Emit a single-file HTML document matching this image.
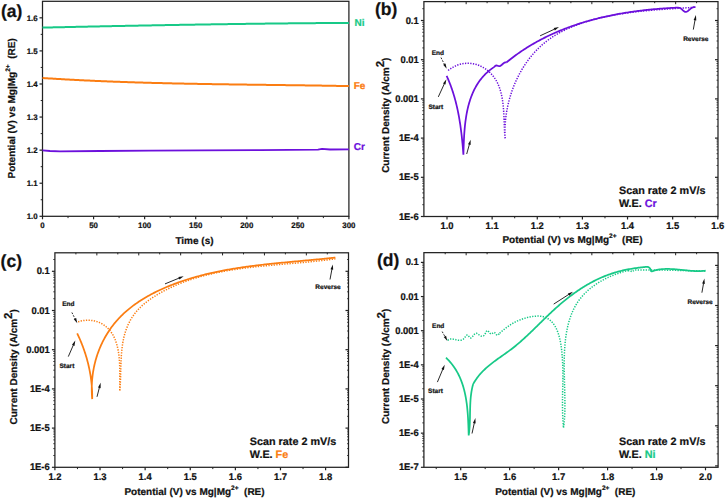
<!DOCTYPE html>
<html><head><meta charset="utf-8"><style>
html,body{margin:0;padding:0;background:#fff;width:725px;height:498px;overflow:hidden}
svg{display:block}
text{font-family:"Liberation Sans",sans-serif;font-weight:bold;text-rendering:geometricPrecision;stroke-width:0.22px}
</style></head><body>
<svg width="725" height="498" viewBox="0 0 725 498">
<rect width="725" height="498" fill="#fff"/>
<rect x="42.5" y="1.3" width="306.4" height="215.0" fill="none" stroke="#222" stroke-width="1.25"/>
<line x1="39.50" y1="216.30" x2="42.50" y2="216.30" stroke="#222" stroke-width="1.2" />
<text transform="translate(37.70,219.10) scale(1,1.0)" font-size="7.9" text-anchor="end" fill="#111" stroke="#111">1.0</text>
<line x1="39.50" y1="183.22" x2="42.50" y2="183.22" stroke="#222" stroke-width="1.2" />
<text transform="translate(37.70,186.02) scale(1,1.0)" font-size="7.9" text-anchor="end" fill="#111" stroke="#111">1.1</text>
<line x1="39.50" y1="150.14" x2="42.50" y2="150.14" stroke="#222" stroke-width="1.2" />
<text transform="translate(37.70,152.94) scale(1,1.0)" font-size="7.9" text-anchor="end" fill="#111" stroke="#111">1.2</text>
<line x1="39.50" y1="117.06" x2="42.50" y2="117.06" stroke="#222" stroke-width="1.2" />
<text transform="translate(37.70,119.86) scale(1,1.0)" font-size="7.9" text-anchor="end" fill="#111" stroke="#111">1.3</text>
<line x1="39.50" y1="83.98" x2="42.50" y2="83.98" stroke="#222" stroke-width="1.2" />
<text transform="translate(37.70,86.78) scale(1,1.0)" font-size="7.9" text-anchor="end" fill="#111" stroke="#111">1.4</text>
<line x1="39.50" y1="50.90" x2="42.50" y2="50.90" stroke="#222" stroke-width="1.2" />
<text transform="translate(37.70,53.70) scale(1,1.0)" font-size="7.9" text-anchor="end" fill="#111" stroke="#111">1.5</text>
<line x1="39.50" y1="17.82" x2="42.50" y2="17.82" stroke="#222" stroke-width="1.2" />
<text transform="translate(37.70,20.62) scale(1,1.0)" font-size="7.9" text-anchor="end" fill="#111" stroke="#111">1.6</text>
<line x1="40.70" y1="199.76" x2="42.50" y2="199.76" stroke="#222" stroke-width="1.0" />
<line x1="40.70" y1="166.68" x2="42.50" y2="166.68" stroke="#222" stroke-width="1.0" />
<line x1="40.70" y1="133.60" x2="42.50" y2="133.60" stroke="#222" stroke-width="1.0" />
<line x1="40.70" y1="100.52" x2="42.50" y2="100.52" stroke="#222" stroke-width="1.0" />
<line x1="40.70" y1="67.44" x2="42.50" y2="67.44" stroke="#222" stroke-width="1.0" />
<line x1="40.70" y1="34.36" x2="42.50" y2="34.36" stroke="#222" stroke-width="1.0" />
<line x1="42.50" y1="216.30" x2="42.50" y2="219.30" stroke="#222" stroke-width="1.2" />
<text transform="translate(42.50,228.10) scale(1,1.0)" font-size="7.9" text-anchor="middle" fill="#111" stroke="#111">0</text>
<line x1="93.57" y1="216.30" x2="93.57" y2="219.30" stroke="#222" stroke-width="1.2" />
<text transform="translate(93.57,228.10) scale(1,1.0)" font-size="7.9" text-anchor="middle" fill="#111" stroke="#111">50</text>
<line x1="144.63" y1="216.30" x2="144.63" y2="219.30" stroke="#222" stroke-width="1.2" />
<text transform="translate(144.63,228.10) scale(1,1.0)" font-size="7.9" text-anchor="middle" fill="#111" stroke="#111">100</text>
<line x1="195.70" y1="216.30" x2="195.70" y2="219.30" stroke="#222" stroke-width="1.2" />
<text transform="translate(195.70,228.10) scale(1,1.0)" font-size="7.9" text-anchor="middle" fill="#111" stroke="#111">150</text>
<line x1="246.77" y1="216.30" x2="246.77" y2="219.30" stroke="#222" stroke-width="1.2" />
<text transform="translate(246.77,228.10) scale(1,1.0)" font-size="7.9" text-anchor="middle" fill="#111" stroke="#111">200</text>
<line x1="297.83" y1="216.30" x2="297.83" y2="219.30" stroke="#222" stroke-width="1.2" />
<text transform="translate(297.83,228.10) scale(1,1.0)" font-size="7.9" text-anchor="middle" fill="#111" stroke="#111">250</text>
<line x1="348.90" y1="216.30" x2="348.90" y2="219.30" stroke="#222" stroke-width="1.2" />
<text transform="translate(348.90,228.10) scale(1,1.0)" font-size="7.9" text-anchor="middle" fill="#111" stroke="#111">300</text>
<line x1="68.03" y1="216.30" x2="68.03" y2="218.10" stroke="#222" stroke-width="1.0" />
<line x1="119.10" y1="216.30" x2="119.10" y2="218.10" stroke="#222" stroke-width="1.0" />
<line x1="170.17" y1="216.30" x2="170.17" y2="218.10" stroke="#222" stroke-width="1.0" />
<line x1="221.23" y1="216.30" x2="221.23" y2="218.10" stroke="#222" stroke-width="1.0" />
<line x1="272.30" y1="216.30" x2="272.30" y2="218.10" stroke="#222" stroke-width="1.0" />
<line x1="323.37" y1="216.30" x2="323.37" y2="218.10" stroke="#222" stroke-width="1.0" />
<text x="194.50" y="243.50" font-size="10" text-anchor="middle" fill="#111" stroke="#111" >Time (s)</text>
<text transform="translate(14.8,108.4) rotate(-90)" font-size="10" text-anchor="middle" fill="#111" stroke="#111">Potential (V) vs Mg|Mg<tspan font-size="6.5" dy="-5">2+</tspan><tspan dy="5" xml:space="preserve">  (RE)</tspan></text>
<text x="1.00" y="16.50" font-size="17.5" text-anchor="start" fill="#111" stroke="#111" >(a)</text>
<path d="M42.50,27.60 L43.71,27.57 L44.91,27.55 L46.12,27.52 L47.32,27.49 L48.53,27.47 L49.74,27.44 L50.94,27.41 L52.15,27.39 L53.36,27.36 L54.56,27.34 L55.77,27.31 L56.97,27.28 L58.18,27.26 L59.39,27.23 L60.59,27.21 L61.80,27.18 L63.00,27.15 L64.21,27.13 L65.42,27.10 L66.62,27.08 L67.83,27.05 L69.04,27.02 L70.24,27.00 L71.45,26.97 L72.65,26.95 L73.86,26.92 L75.07,26.90 L76.27,26.87 L77.48,26.84 L78.69,26.82 L79.89,26.79 L81.10,26.77 L82.30,26.74 L83.51,26.72 L84.72,26.69 L85.92,26.67 L87.13,26.64 L88.33,26.62 L89.54,26.59 L90.75,26.57 L91.95,26.54 L93.16,26.52 L94.37,26.49 L95.57,26.47 L96.78,26.44 L97.98,26.42 L99.19,26.39 L100.40,26.37 L101.60,26.34 L102.81,26.32 L104.02,26.29 L105.22,26.27 L106.43,26.25 L107.63,26.22 L108.84,26.20 L110.05,26.17 L111.25,26.15 L112.46,26.12 L113.67,26.10 L114.87,26.08 L116.08,26.05 L117.28,26.03 L118.49,26.01 L119.70,25.98 L120.90,25.96 L122.11,25.93 L123.31,25.91 L124.52,25.89 L125.73,25.86 L126.93,25.84 L128.14,25.82 L129.35,25.79 L130.55,25.77 L131.76,25.75 L132.96,25.72 L134.17,25.70 L135.38,25.68 L136.58,25.65 L137.79,25.63 L139.00,25.61 L140.20,25.59 L141.41,25.56 L142.61,25.54 L143.82,25.52 L145.03,25.49 L146.23,25.47 L147.44,25.45 L148.65,25.43 L149.85,25.41 L151.06,25.38 L152.26,25.36 L153.47,25.34 L154.68,25.32 L155.88,25.29 L157.09,25.27 L158.30,25.25 L159.50,25.23 L160.71,25.21 L161.91,25.19 L163.12,25.16 L164.33,25.14 L165.53,25.12 L166.74,25.10 L167.95,25.08 L169.15,25.06 L170.36,25.04 L171.56,25.02 L172.77,24.99 L173.98,24.97 L175.18,24.95 L176.39,24.93 L177.60,24.91 L178.80,24.89 L180.01,24.87 L181.21,24.85 L182.42,24.83 L183.63,24.81 L184.83,24.79 L186.04,24.77 L187.25,24.75 L188.45,24.73 L189.66,24.71 L190.87,24.69 L192.07,24.67 L193.28,24.65 L194.48,24.63 L195.69,24.61 L196.90,24.59 L198.10,24.57 L199.31,24.55 L200.52,24.53 L201.72,24.51 L202.93,24.49 L204.13,24.47 L205.34,24.46 L206.55,24.44 L207.75,24.42 L208.96,24.40 L210.17,24.38 L211.37,24.36 L212.58,24.34 L213.78,24.33 L214.99,24.31 L216.20,24.29 L217.40,24.27 L218.61,24.25 L219.82,24.24 L221.02,24.22 L222.23,24.20 L223.44,24.18 L224.64,24.16 L225.85,24.15 L227.05,24.13 L228.26,24.11 L229.47,24.10 L230.67,24.08 L231.88,24.06 L233.09,24.04 L234.29,24.03 L235.50,24.01 L236.71,23.99 L237.91,23.98 L239.12,23.96 L240.32,23.94 L241.53,23.93 L242.74,23.91 L243.94,23.90 L245.15,23.88 L246.36,23.86 L247.56,23.85 L248.77,23.83 L249.97,23.82 L251.18,23.80 L252.39,23.79 L253.59,23.77 L254.80,23.76 L256.01,23.74 L257.21,23.73 L258.42,23.71 L259.63,23.70 L260.83,23.68 L262.04,23.67 L263.24,23.65 L264.45,23.64 L265.66,23.62 L266.86,23.61 L268.07,23.59 L269.28,23.58 L270.48,23.57 L271.69,23.55 L272.90,23.54 L274.10,23.53 L275.31,23.51 L276.51,23.50 L277.72,23.49 L278.93,23.47 L280.13,23.46 L281.34,23.45 L282.55,23.43 L283.75,23.42 L284.96,23.41 L286.17,23.40 L287.37,23.38 L288.58,23.37 L289.79,23.36 L290.99,23.35 L292.20,23.33 L293.40,23.32 L294.61,23.31 L295.82,23.30 L297.02,23.29 L298.23,23.28 L299.44,23.26 L300.64,23.25 L301.85,23.24 L303.06,23.23 L304.26,23.22 L305.47,23.21 L306.67,23.20 L307.88,23.19 L309.09,23.18 L310.29,23.17 L311.50,23.16 L312.71,23.15 L313.91,23.14 L315.12,23.13 L316.33,23.12 L317.53,23.11 L318.74,23.10 L319.95,23.09 L321.15,23.08 L322.36,23.07 L323.56,23.06 L324.77,23.05 L325.98,23.04 L327.18,23.04 L328.39,23.03 L329.60,23.02 L330.80,23.01 L332.01,23.00 L333.22,22.99 L334.42,22.99 L335.63,22.98 L336.84,22.97 L338.04,22.96 L339.25,22.96 L340.45,22.95 L341.66,22.94 L342.87,22.93 L344.07,22.93 L345.28,22.92 L346.49,22.91 L347.69,22.91 L348.90,22.90" fill="none" stroke="#17c987" stroke-width="2.0" stroke-linejoin="round" />
<path d="M42.50,78.00 L43.70,78.08 L44.91,78.16 L46.11,78.24 L47.31,78.31 L48.52,78.39 L49.72,78.47 L50.93,78.54 L52.13,78.62 L53.33,78.69 L54.54,78.76 L55.74,78.84 L56.94,78.91 L58.15,78.98 L59.35,79.05 L60.56,79.12 L61.76,79.19 L62.97,79.26 L64.17,79.33 L65.37,79.39 L66.58,79.46 L67.78,79.53 L68.99,79.59 L70.19,79.66 L71.40,79.72 L72.60,79.79 L73.81,79.85 L75.01,79.91 L76.21,79.98 L77.42,80.04 L78.62,80.10 L79.83,80.16 L81.03,80.22 L82.24,80.28 L83.44,80.34 L84.65,80.40 L85.85,80.45 L87.06,80.51 L88.26,80.57 L89.47,80.62 L90.67,80.68 L91.88,80.73 L93.08,80.79 L94.29,80.84 L95.49,80.90 L96.70,80.95 L97.91,81.00 L99.11,81.05 L100.32,81.10 L101.52,81.16 L102.73,81.21 L103.93,81.26 L105.14,81.30 L106.34,81.35 L107.55,81.40 L108.75,81.45 L109.96,81.50 L111.17,81.54 L112.37,81.59 L113.58,81.64 L114.78,81.68 L115.99,81.73 L117.19,81.77 L118.40,81.81 L119.61,81.86 L120.81,81.90 L122.02,81.94 L123.22,81.99 L124.43,82.03 L125.64,82.07 L126.84,82.11 L128.05,82.15 L129.25,82.19 L130.46,82.23 L131.67,82.27 L132.87,82.31 L134.08,82.35 L135.29,82.38 L136.49,82.42 L137.70,82.46 L138.90,82.50 L140.11,82.53 L141.32,82.57 L142.52,82.60 L143.73,82.64 L144.94,82.67 L146.14,82.71 L147.35,82.74 L148.56,82.78 L149.76,82.81 L150.97,82.84 L152.18,82.88 L153.38,82.91 L154.59,82.94 L155.80,82.97 L157.00,83.00 L158.21,83.03 L159.42,83.06 L160.62,83.09 L161.83,83.12 L163.04,83.15 L164.24,83.18 L165.45,83.21 L166.66,83.24 L167.86,83.27 L169.07,83.30 L170.28,83.33 L171.48,83.35 L172.69,83.38 L173.90,83.41 L175.10,83.43 L176.31,83.46 L177.52,83.49 L178.73,83.51 L179.93,83.54 L181.14,83.56 L182.35,83.59 L183.55,83.61 L184.76,83.64 L185.97,83.66 L187.17,83.68 L188.38,83.71 L189.59,83.73 L190.80,83.75 L192.00,83.78 L193.21,83.80 L194.42,83.82 L195.62,83.84 L196.83,83.87 L198.04,83.89 L199.25,83.91 L200.45,83.93 L201.66,83.95 L202.87,83.97 L204.07,83.99 L205.28,84.01 L206.49,84.03 L207.70,84.05 L208.90,84.07 L210.11,84.09 L211.32,84.11 L212.52,84.13 L213.73,84.15 L214.94,84.17 L216.15,84.19 L217.35,84.21 L218.56,84.23 L219.77,84.25 L220.98,84.26 L222.18,84.28 L223.39,84.30 L224.60,84.32 L225.80,84.34 L227.01,84.35 L228.22,84.37 L229.43,84.39 L230.63,84.41 L231.84,84.42 L233.05,84.44 L234.25,84.46 L235.46,84.47 L236.67,84.49 L237.88,84.51 L239.08,84.52 L240.29,84.54 L241.50,84.56 L242.71,84.57 L243.91,84.59 L245.12,84.60 L246.33,84.62 L247.53,84.64 L248.74,84.65 L249.95,84.67 L251.16,84.68 L252.36,84.70 L253.57,84.72 L254.78,84.73 L255.99,84.75 L257.19,84.76 L258.40,84.78 L259.61,84.79 L260.81,84.81 L262.02,84.82 L263.23,84.84 L264.44,84.85 L265.64,84.87 L266.85,84.89 L268.06,84.90 L269.26,84.92 L270.47,84.93 L271.68,84.95 L272.89,84.96 L274.09,84.98 L275.30,84.99 L276.51,85.01 L277.71,85.02 L278.92,85.04 L280.13,85.05 L281.34,85.07 L282.54,85.09 L283.75,85.10 L284.96,85.12 L286.16,85.13 L287.37,85.15 L288.58,85.16 L289.78,85.18 L290.99,85.19 L292.20,85.21 L293.40,85.23 L294.61,85.24 L295.82,85.26 L297.03,85.28 L298.23,85.29 L299.44,85.31 L300.65,85.32 L301.85,85.34 L303.06,85.36 L304.27,85.37 L305.47,85.39 L306.68,85.41 L307.89,85.43 L309.09,85.44 L310.30,85.46 L311.51,85.48 L312.71,85.50 L313.92,85.51 L315.13,85.53 L316.33,85.55 L317.54,85.57 L318.75,85.59 L319.95,85.60 L321.16,85.62 L322.36,85.64 L323.57,85.66 L324.78,85.68 L325.98,85.70 L327.19,85.72 L328.40,85.74 L329.60,85.76 L330.81,85.78 L332.02,85.80 L333.22,85.82 L334.43,85.84 L335.63,85.86 L336.84,85.88 L338.05,85.90 L339.25,85.92 L340.46,85.94 L341.66,85.96 L342.87,85.99 L344.08,86.01 L345.28,86.03 L346.49,86.05 L347.69,86.08 L348.90,86.10" fill="none" stroke="#fb7d12" stroke-width="2.0" stroke-linejoin="round" />
<path d="M42.50,150.40 L50.00,151.00 L60.00,151.40 L100.00,151.00 L150.00,150.60 L200.00,150.40 L260.00,150.10 L318.00,149.60 L322.00,148.90 L330.00,149.50 L348.90,149.30" fill="none" stroke="#6c10dc" stroke-width="1.8" stroke-linejoin="round"/>
<text x="354.50" y="26.10" font-size="10" text-anchor="start" fill="#17c987" stroke="#17c987" >Ni</text>
<text x="353.70" y="88.60" font-size="10" text-anchor="start" fill="#fb7d12" stroke="#fb7d12" >Fe</text>
<text x="353.70" y="150.10" font-size="10" text-anchor="start" fill="#6c10dc" stroke="#6c10dc" >Cr</text>
<rect x="423.9" y="1.6" width="294.1" height="214.9" fill="none" stroke="#222" stroke-width="1.25"/>
<line x1="420.90" y1="20.50" x2="423.90" y2="20.50" stroke="#222" stroke-width="1.2" />
<text transform="translate(418.70,23.50) scale(1,1.03)" font-size="9.4" text-anchor="end" fill="#111" stroke="#111">0.1</text>
<line x1="422.30" y1="8.70" x2="423.90" y2="8.70" stroke="#222" stroke-width="0.9" />
<line x1="420.90" y1="59.70" x2="423.90" y2="59.70" stroke="#222" stroke-width="1.2" />
<text transform="translate(418.70,62.70) scale(1,1.03)" font-size="9.4" text-anchor="end" fill="#111" stroke="#111">0.01</text>
<line x1="422.30" y1="47.90" x2="423.90" y2="47.90" stroke="#222" stroke-width="0.9" />
<line x1="422.30" y1="41.00" x2="423.90" y2="41.00" stroke="#222" stroke-width="0.9" />
<line x1="422.30" y1="36.10" x2="423.90" y2="36.10" stroke="#222" stroke-width="0.9" />
<line x1="422.30" y1="32.30" x2="423.90" y2="32.30" stroke="#222" stroke-width="0.9" />
<line x1="422.30" y1="29.20" x2="423.90" y2="29.20" stroke="#222" stroke-width="0.9" />
<line x1="422.30" y1="26.57" x2="423.90" y2="26.57" stroke="#222" stroke-width="0.9" />
<line x1="422.30" y1="24.30" x2="423.90" y2="24.30" stroke="#222" stroke-width="0.9" />
<line x1="422.30" y1="22.29" x2="423.90" y2="22.29" stroke="#222" stroke-width="0.9" />
<line x1="420.90" y1="98.90" x2="423.90" y2="98.90" stroke="#222" stroke-width="1.2" />
<text transform="translate(418.70,101.90) scale(1,1.03)" font-size="9.4" text-anchor="end" fill="#111" stroke="#111">0.001</text>
<line x1="422.30" y1="87.10" x2="423.90" y2="87.10" stroke="#222" stroke-width="0.9" />
<line x1="422.30" y1="80.20" x2="423.90" y2="80.20" stroke="#222" stroke-width="0.9" />
<line x1="422.30" y1="75.30" x2="423.90" y2="75.30" stroke="#222" stroke-width="0.9" />
<line x1="422.30" y1="71.50" x2="423.90" y2="71.50" stroke="#222" stroke-width="0.9" />
<line x1="422.30" y1="68.40" x2="423.90" y2="68.40" stroke="#222" stroke-width="0.9" />
<line x1="422.30" y1="65.77" x2="423.90" y2="65.77" stroke="#222" stroke-width="0.9" />
<line x1="422.30" y1="63.50" x2="423.90" y2="63.50" stroke="#222" stroke-width="0.9" />
<line x1="422.30" y1="61.49" x2="423.90" y2="61.49" stroke="#222" stroke-width="0.9" />
<line x1="420.90" y1="138.10" x2="423.90" y2="138.10" stroke="#222" stroke-width="1.2" />
<text transform="translate(418.70,141.10) scale(1,1.03)" font-size="9.4" text-anchor="end" fill="#111" stroke="#111">1E-4</text>
<line x1="422.30" y1="126.30" x2="423.90" y2="126.30" stroke="#222" stroke-width="0.9" />
<line x1="422.30" y1="119.40" x2="423.90" y2="119.40" stroke="#222" stroke-width="0.9" />
<line x1="422.30" y1="114.50" x2="423.90" y2="114.50" stroke="#222" stroke-width="0.9" />
<line x1="422.30" y1="110.70" x2="423.90" y2="110.70" stroke="#222" stroke-width="0.9" />
<line x1="422.30" y1="107.60" x2="423.90" y2="107.60" stroke="#222" stroke-width="0.9" />
<line x1="422.30" y1="104.97" x2="423.90" y2="104.97" stroke="#222" stroke-width="0.9" />
<line x1="422.30" y1="102.70" x2="423.90" y2="102.70" stroke="#222" stroke-width="0.9" />
<line x1="422.30" y1="100.69" x2="423.90" y2="100.69" stroke="#222" stroke-width="0.9" />
<line x1="420.90" y1="177.30" x2="423.90" y2="177.30" stroke="#222" stroke-width="1.2" />
<text transform="translate(418.70,180.30) scale(1,1.03)" font-size="9.4" text-anchor="end" fill="#111" stroke="#111">1E-5</text>
<line x1="422.30" y1="165.50" x2="423.90" y2="165.50" stroke="#222" stroke-width="0.9" />
<line x1="422.30" y1="158.60" x2="423.90" y2="158.60" stroke="#222" stroke-width="0.9" />
<line x1="422.30" y1="153.70" x2="423.90" y2="153.70" stroke="#222" stroke-width="0.9" />
<line x1="422.30" y1="149.90" x2="423.90" y2="149.90" stroke="#222" stroke-width="0.9" />
<line x1="422.30" y1="146.80" x2="423.90" y2="146.80" stroke="#222" stroke-width="0.9" />
<line x1="422.30" y1="144.17" x2="423.90" y2="144.17" stroke="#222" stroke-width="0.9" />
<line x1="422.30" y1="141.90" x2="423.90" y2="141.90" stroke="#222" stroke-width="0.9" />
<line x1="422.30" y1="139.89" x2="423.90" y2="139.89" stroke="#222" stroke-width="0.9" />
<line x1="420.90" y1="216.50" x2="423.90" y2="216.50" stroke="#222" stroke-width="1.2" />
<text transform="translate(418.70,219.50) scale(1,1.03)" font-size="9.4" text-anchor="end" fill="#111" stroke="#111">1E-6</text>
<line x1="422.30" y1="204.70" x2="423.90" y2="204.70" stroke="#222" stroke-width="0.9" />
<line x1="422.30" y1="197.80" x2="423.90" y2="197.80" stroke="#222" stroke-width="0.9" />
<line x1="422.30" y1="192.90" x2="423.90" y2="192.90" stroke="#222" stroke-width="0.9" />
<line x1="422.30" y1="189.10" x2="423.90" y2="189.10" stroke="#222" stroke-width="0.9" />
<line x1="422.30" y1="186.00" x2="423.90" y2="186.00" stroke="#222" stroke-width="0.9" />
<line x1="422.30" y1="183.37" x2="423.90" y2="183.37" stroke="#222" stroke-width="0.9" />
<line x1="422.30" y1="181.10" x2="423.90" y2="181.10" stroke="#222" stroke-width="0.9" />
<line x1="422.30" y1="179.09" x2="423.90" y2="179.09" stroke="#222" stroke-width="0.9" />
<line x1="716.50" y1="8.70" x2="718.00" y2="8.70" stroke="#222" stroke-width="0.8" />
<line x1="715.00" y1="20.50" x2="718.00" y2="20.50" stroke="#222" stroke-width="1.2" />
<line x1="716.50" y1="47.90" x2="718.00" y2="47.90" stroke="#222" stroke-width="0.8" />
<line x1="716.50" y1="41.00" x2="718.00" y2="41.00" stroke="#222" stroke-width="0.8" />
<line x1="716.50" y1="36.10" x2="718.00" y2="36.10" stroke="#222" stroke-width="0.8" />
<line x1="716.50" y1="32.30" x2="718.00" y2="32.30" stroke="#222" stroke-width="0.8" />
<line x1="716.50" y1="29.20" x2="718.00" y2="29.20" stroke="#222" stroke-width="0.8" />
<line x1="716.50" y1="26.57" x2="718.00" y2="26.57" stroke="#222" stroke-width="0.8" />
<line x1="716.50" y1="24.30" x2="718.00" y2="24.30" stroke="#222" stroke-width="0.8" />
<line x1="716.50" y1="22.29" x2="718.00" y2="22.29" stroke="#222" stroke-width="0.8" />
<line x1="715.00" y1="59.70" x2="718.00" y2="59.70" stroke="#222" stroke-width="1.2" />
<line x1="716.50" y1="87.10" x2="718.00" y2="87.10" stroke="#222" stroke-width="0.8" />
<line x1="716.50" y1="80.20" x2="718.00" y2="80.20" stroke="#222" stroke-width="0.8" />
<line x1="716.50" y1="75.30" x2="718.00" y2="75.30" stroke="#222" stroke-width="0.8" />
<line x1="716.50" y1="71.50" x2="718.00" y2="71.50" stroke="#222" stroke-width="0.8" />
<line x1="716.50" y1="68.40" x2="718.00" y2="68.40" stroke="#222" stroke-width="0.8" />
<line x1="716.50" y1="65.77" x2="718.00" y2="65.77" stroke="#222" stroke-width="0.8" />
<line x1="716.50" y1="63.50" x2="718.00" y2="63.50" stroke="#222" stroke-width="0.8" />
<line x1="716.50" y1="61.49" x2="718.00" y2="61.49" stroke="#222" stroke-width="0.8" />
<line x1="715.00" y1="98.90" x2="718.00" y2="98.90" stroke="#222" stroke-width="1.2" />
<line x1="716.50" y1="126.30" x2="718.00" y2="126.30" stroke="#222" stroke-width="0.8" />
<line x1="716.50" y1="119.40" x2="718.00" y2="119.40" stroke="#222" stroke-width="0.8" />
<line x1="716.50" y1="114.50" x2="718.00" y2="114.50" stroke="#222" stroke-width="0.8" />
<line x1="716.50" y1="110.70" x2="718.00" y2="110.70" stroke="#222" stroke-width="0.8" />
<line x1="716.50" y1="107.60" x2="718.00" y2="107.60" stroke="#222" stroke-width="0.8" />
<line x1="716.50" y1="104.97" x2="718.00" y2="104.97" stroke="#222" stroke-width="0.8" />
<line x1="716.50" y1="102.70" x2="718.00" y2="102.70" stroke="#222" stroke-width="0.8" />
<line x1="716.50" y1="100.69" x2="718.00" y2="100.69" stroke="#222" stroke-width="0.8" />
<line x1="715.00" y1="138.10" x2="718.00" y2="138.10" stroke="#222" stroke-width="1.2" />
<line x1="716.50" y1="165.50" x2="718.00" y2="165.50" stroke="#222" stroke-width="0.8" />
<line x1="716.50" y1="158.60" x2="718.00" y2="158.60" stroke="#222" stroke-width="0.8" />
<line x1="716.50" y1="153.70" x2="718.00" y2="153.70" stroke="#222" stroke-width="0.8" />
<line x1="716.50" y1="149.90" x2="718.00" y2="149.90" stroke="#222" stroke-width="0.8" />
<line x1="716.50" y1="146.80" x2="718.00" y2="146.80" stroke="#222" stroke-width="0.8" />
<line x1="716.50" y1="144.17" x2="718.00" y2="144.17" stroke="#222" stroke-width="0.8" />
<line x1="716.50" y1="141.90" x2="718.00" y2="141.90" stroke="#222" stroke-width="0.8" />
<line x1="716.50" y1="139.89" x2="718.00" y2="139.89" stroke="#222" stroke-width="0.8" />
<line x1="715.00" y1="177.30" x2="718.00" y2="177.30" stroke="#222" stroke-width="1.2" />
<line x1="716.50" y1="204.70" x2="718.00" y2="204.70" stroke="#222" stroke-width="0.8" />
<line x1="716.50" y1="197.80" x2="718.00" y2="197.80" stroke="#222" stroke-width="0.8" />
<line x1="716.50" y1="192.90" x2="718.00" y2="192.90" stroke="#222" stroke-width="0.8" />
<line x1="716.50" y1="189.10" x2="718.00" y2="189.10" stroke="#222" stroke-width="0.8" />
<line x1="716.50" y1="186.00" x2="718.00" y2="186.00" stroke="#222" stroke-width="0.8" />
<line x1="716.50" y1="183.37" x2="718.00" y2="183.37" stroke="#222" stroke-width="0.8" />
<line x1="716.50" y1="181.10" x2="718.00" y2="181.10" stroke="#222" stroke-width="0.8" />
<line x1="716.50" y1="179.09" x2="718.00" y2="179.09" stroke="#222" stroke-width="0.8" />
<line x1="715.00" y1="216.50" x2="718.00" y2="216.50" stroke="#222" stroke-width="1.2" />
<line x1="445.20" y1="1.60" x2="445.20" y2="3.20" stroke="#222" stroke-width="1.0" />
<line x1="466.15" y1="1.60" x2="466.15" y2="4.20" stroke="#222" stroke-width="1.0" />
<line x1="487.10" y1="1.60" x2="487.10" y2="3.20" stroke="#222" stroke-width="1.0" />
<line x1="508.05" y1="1.60" x2="508.05" y2="4.20" stroke="#222" stroke-width="1.0" />
<line x1="529.00" y1="1.60" x2="529.00" y2="3.20" stroke="#222" stroke-width="1.0" />
<line x1="549.95" y1="1.60" x2="549.95" y2="4.20" stroke="#222" stroke-width="1.0" />
<line x1="570.90" y1="1.60" x2="570.90" y2="3.20" stroke="#222" stroke-width="1.0" />
<line x1="591.85" y1="1.60" x2="591.85" y2="4.20" stroke="#222" stroke-width="1.0" />
<line x1="612.80" y1="1.60" x2="612.80" y2="3.20" stroke="#222" stroke-width="1.0" />
<line x1="633.75" y1="1.60" x2="633.75" y2="4.20" stroke="#222" stroke-width="1.0" />
<line x1="654.70" y1="1.60" x2="654.70" y2="3.20" stroke="#222" stroke-width="1.0" />
<line x1="675.65" y1="1.60" x2="675.65" y2="4.20" stroke="#222" stroke-width="1.0" />
<line x1="696.60" y1="1.60" x2="696.60" y2="3.20" stroke="#222" stroke-width="1.0" />
<line x1="447.00" y1="216.50" x2="447.00" y2="219.50" stroke="#222" stroke-width="1.2" />
<text transform="translate(447.00,228.90) scale(1,1.03)" font-size="9.4" text-anchor="middle" fill="#111" stroke="#111">1.0</text>
<line x1="492.13" y1="216.50" x2="492.13" y2="219.50" stroke="#222" stroke-width="1.2" />
<text transform="translate(492.13,228.90) scale(1,1.03)" font-size="9.4" text-anchor="middle" fill="#111" stroke="#111">1.1</text>
<line x1="537.27" y1="216.50" x2="537.27" y2="219.50" stroke="#222" stroke-width="1.2" />
<text transform="translate(537.27,228.90) scale(1,1.03)" font-size="9.4" text-anchor="middle" fill="#111" stroke="#111">1.2</text>
<line x1="582.40" y1="216.50" x2="582.40" y2="219.50" stroke="#222" stroke-width="1.2" />
<text transform="translate(582.40,228.90) scale(1,1.03)" font-size="9.4" text-anchor="middle" fill="#111" stroke="#111">1.3</text>
<line x1="627.53" y1="216.50" x2="627.53" y2="219.50" stroke="#222" stroke-width="1.2" />
<text transform="translate(627.53,228.90) scale(1,1.03)" font-size="9.4" text-anchor="middle" fill="#111" stroke="#111">1.4</text>
<line x1="672.67" y1="216.50" x2="672.67" y2="219.50" stroke="#222" stroke-width="1.2" />
<text transform="translate(672.67,228.90) scale(1,1.03)" font-size="9.4" text-anchor="middle" fill="#111" stroke="#111">1.5</text>
<line x1="717.80" y1="216.50" x2="717.80" y2="219.50" stroke="#222" stroke-width="1.2" />
<text transform="translate(717.80,228.90) scale(1,1.03)" font-size="9.4" text-anchor="middle" fill="#111" stroke="#111">1.6</text>
<line x1="469.57" y1="216.50" x2="469.57" y2="218.30" stroke="#222" stroke-width="1.0" />
<line x1="514.70" y1="216.50" x2="514.70" y2="218.30" stroke="#222" stroke-width="1.0" />
<line x1="559.83" y1="216.50" x2="559.83" y2="218.30" stroke="#222" stroke-width="1.0" />
<line x1="604.97" y1="216.50" x2="604.97" y2="218.30" stroke="#222" stroke-width="1.0" />
<line x1="650.10" y1="216.50" x2="650.10" y2="218.30" stroke="#222" stroke-width="1.0" />
<line x1="695.23" y1="216.50" x2="695.23" y2="218.30" stroke="#222" stroke-width="1.0" />
<text x="375.00" y="15.00" font-size="17.5" text-anchor="start" fill="#111" stroke="#111" >(b)</text>
<path d="M446.60,75.80 L447.11,76.93 L447.61,78.06 L448.11,79.19 L448.59,80.33 L449.06,81.47 L449.52,82.61 L449.97,83.76 L450.40,84.91 L450.83,86.06 L451.25,87.22 L451.67,88.38 L452.07,89.54 L452.46,90.71 L452.84,91.87 L453.21,93.05 L453.58,94.22 L453.93,95.39 L454.28,96.57 L454.62,97.75 L454.95,98.94 L455.27,100.12 L455.59,101.31 L455.89,102.50 L456.19,103.69 L456.48,104.88 L456.76,106.08 L457.04,107.28 L457.31,108.48 L457.57,109.68 L457.82,110.88 L458.07,112.09 L458.31,113.29 L458.54,114.50 L458.77,115.71 L458.99,116.92 L459.20,118.13 L459.41,119.35 L459.61,120.56 L459.81,121.78 L460.00,123.00 L460.19,124.21 L460.37,125.43 L460.54,126.65 L460.71,127.87 L460.87,129.09 L461.03,130.32 L461.19,131.54 L461.34,132.76 L461.48,133.99 L461.62,135.21 L461.76,136.43 L461.89,137.66 L462.02,138.88 L462.15,140.11 L462.27,141.33 L462.39,142.56 L462.50,143.78 L462.61,145.01 L462.72,146.23 L462.83,147.46 L462.93,148.68 L463.03,149.91 L463.12,151.13 L463.22,152.36 L463.31,153.58 L463.40,154.80 M463.40,154.80 L463.43,153.63 L463.47,152.45 L463.50,151.27 L463.54,150.08 L463.57,148.89 L463.61,147.69 L463.65,146.49 L463.70,145.28 L463.74,144.07 L463.79,142.85 L463.84,141.64 L463.90,140.42 L463.95,139.19 L464.02,137.97 L464.09,136.74 L464.16,135.51 L464.24,134.28 L464.32,133.05 L464.41,131.82 L464.51,130.59 L464.61,129.36 L464.72,128.12 L464.84,126.89 L464.96,125.66 L465.09,124.43 L465.24,123.20 L465.38,121.97 L465.54,120.75 L465.71,119.52 L465.89,118.30 L466.07,117.08 L466.27,115.87 L466.48,114.66 L466.70,113.45 L466.93,112.24 L467.17,111.04 L467.42,109.85 L467.69,108.66 L467.97,107.47 L468.26,106.29 L468.56,105.11 L468.88,103.94 L469.21,102.78 L469.56,101.63 L469.92,100.48 L470.30,99.33 L470.69,98.20 L471.10,97.07 L471.52,95.96 L471.96,94.84 L472.41,93.74 L472.88,92.65 L473.37,91.57 L473.88,90.49 L474.40,89.43 L474.95,88.38 L475.51,87.33 L476.09,86.30 L476.69,85.28 L477.31,84.27 L477.95,83.27 L478.61,82.28 L479.29,81.31 L479.99,80.35 L480.71,79.40 L481.45,78.46 L482.22,77.54 L483.00,76.63 L483.81,75.74 L484.65,74.85 L485.50,73.99 L486.38,73.14 L487.28,72.30 L488.21,71.48 L489.16,70.68 L490.14,69.89 L491.14,69.12 L492.17,68.36 L493.22,67.62 L494.30,66.90 M494.30,66.90 L495.56,65.58 L496.86,65.46 L498.15,65.87 L499.38,66.14 L500.52,65.80 L501.62,64.99 L502.73,63.96 L503.89,63.00 L505.17,62.35 L506.60,62.30 M506.60,62.30 L507.55,61.52 L508.51,60.75 L509.47,59.98 L510.43,59.22 L511.40,58.47 L512.37,57.73 L513.35,56.99 L514.33,56.26 L515.31,55.53 L516.30,54.82 L517.29,54.11 L518.28,53.40 L519.28,52.70 L520.28,52.01 L521.29,51.33 L522.29,50.65 L523.31,49.98 L524.32,49.32 L525.34,48.66 L526.36,48.01 L527.39,47.36 L528.42,46.72 L529.45,46.09 L530.48,45.47 L531.52,44.85 L532.56,44.24 L533.61,43.63 L534.66,43.03 L535.71,42.43 L536.76,41.85 L537.82,41.27 L538.88,40.69 L539.95,40.12 L541.01,39.56 L542.08,39.00 L543.15,38.45 L544.23,37.90 L545.31,37.36 L546.39,36.83 L547.47,36.30 L548.56,35.78 L549.65,35.27 L550.74,34.76 L551.83,34.25 L552.93,33.76 L554.03,33.26 L555.13,32.78 L556.24,32.30 L557.35,31.82 L558.46,31.35 L559.57,30.89 L560.68,30.43 L561.80,29.98 L562.92,29.53 L564.04,29.09 L565.17,28.65 L566.29,28.22 L567.42,27.79 L568.55,27.37 L569.69,26.96 L570.82,26.55 L571.96,26.14 L573.10,25.74 L574.24,25.35 L575.38,24.96 L576.53,24.58 L577.68,24.20 L578.83,23.82 L579.98,23.46 L581.13,23.09 L582.29,22.73 L583.45,22.38 L584.60,22.03 L585.76,21.69 L586.93,21.35 L588.09,21.01 L589.26,20.69 L590.42,20.36 L591.59,20.04 L592.76,19.73 L593.94,19.42 L595.11,19.11 L596.28,18.81 L597.46,18.51 L598.64,18.22 L599.82,17.93 L601.00,17.65 L602.18,17.37 L603.36,17.10 L604.55,16.83 L605.73,16.57 L606.92,16.31 L608.11,16.05 L609.30,15.80 L610.49,15.55 L611.68,15.31 L612.87,15.07 L614.07,14.83 L615.26,14.60 L616.46,14.37 L617.65,14.15 L618.85,13.93 L620.05,13.72 L621.25,13.51 L622.45,13.30 L623.65,13.10 L624.85,12.90 L626.05,12.71 L627.26,12.52 L628.46,12.33 L629.66,12.15 L630.87,11.97 L632.07,11.79 L633.28,11.62 L634.49,11.45 L635.69,11.29 L636.90,11.13 L638.11,10.97 L639.32,10.81 L640.53,10.66 L641.73,10.52 L642.94,10.37 L644.15,10.23 L645.36,10.10 L646.57,9.97 L647.78,9.84 L648.99,9.71 L650.20,9.59 L651.41,9.47 L652.62,9.35 L653.83,9.24 L655.04,9.13 L656.25,9.02 L657.47,8.92 L658.68,8.82 L659.89,8.72 L661.10,8.62 L662.30,8.53 L663.51,8.44 L664.72,8.36 L665.93,8.27 L667.14,8.19 L668.35,8.12 L669.56,8.04 L670.77,7.97 L671.97,7.90 L673.18,7.84 L674.38,7.77 L675.59,7.71 L676.80,7.66 L678.00,7.60 M678.00,7.70 L679.40,7.78 L680.60,8.33 L681.67,9.17 L682.68,10.15 L683.72,11.10 L684.82,11.82 L685.98,11.99 L687.15,11.52 L688.28,10.70 L689.36,9.79 L690.42,8.88 L691.52,8.07 L692.70,7.45 L694.01,7.10 L695.50,7.10" fill="none" stroke="#6c10dc" stroke-width="1.75" stroke-linejoin="round" />
<path d="M448.10,70.50 L449.27,69.61 L450.45,68.78 L451.64,68.01 L452.83,67.30 L454.03,66.66 L455.23,66.07 L456.43,65.54 L457.64,65.07 L458.85,64.65 L460.06,64.29 L461.26,63.99 L462.47,63.74 L463.67,63.54 L464.87,63.39 L466.07,63.29 L467.26,63.24 L468.44,63.25 L469.62,63.30 L470.79,63.39 L471.95,63.53 L473.10,63.72 L474.24,63.95 L475.37,64.23 L476.49,64.55 L477.59,64.91 L478.68,65.31 L479.75,65.75 L480.81,66.22 L481.85,66.74 L482.87,67.29 L483.88,67.88 L484.86,68.50 L485.83,69.16 L486.77,69.85 L487.69,70.57 L488.59,71.33 L489.46,72.11 L490.31,72.92 L491.13,73.77 L491.93,74.64 L492.70,75.53 L493.43,76.45 L494.14,77.40 L494.82,78.37 L495.47,79.36 L496.09,80.37 L496.67,81.41 L497.23,82.47 L497.75,83.54 L498.25,84.63 L498.72,85.75 L499.16,86.87 L499.57,88.02 L499.96,89.18 L500.33,90.35 L500.67,91.54 L500.99,92.74 L501.29,93.95 L501.57,95.17 L501.82,96.40 L502.06,97.65 L502.28,98.90 L502.49,100.16 L502.67,101.42 L502.85,102.69 L503.00,103.97 L503.15,105.25 L503.28,106.53 L503.40,107.82 L503.50,109.11 L503.60,110.40 L503.69,111.69 L503.77,112.98 L503.84,114.26 L503.91,115.55 L503.97,116.83 L504.03,118.11 L504.08,119.38 L504.13,120.65 L504.17,121.91 L504.22,123.16 L504.26,124.41 L504.31,125.64 L504.36,126.87 L504.41,128.08 L504.46,129.29 L504.52,130.48 L504.58,131.66 L504.64,132.82 L504.72,133.97 L504.80,135.10 L504.89,136.22 L504.99,137.32 L505.10,138.40 M505.10,138.40 L505.04,137.20 L505.00,136.01 L504.97,134.80 L504.94,133.60 L504.94,132.40 L504.94,131.19 L504.95,129.99 L504.98,128.78 L505.02,127.57 L505.07,126.37 L505.14,125.16 L505.21,123.95 L505.30,122.74 L505.40,121.53 L505.52,120.32 L505.64,119.11 L505.77,117.90 L505.92,116.70 L506.08,115.49 L506.25,114.28 L506.44,113.08 L506.63,111.87 L506.84,110.67 L507.06,109.47 L507.29,108.27 L507.53,107.08 L507.78,105.88 L508.04,104.69 L508.32,103.50 L508.61,102.31 L508.91,101.13 L509.22,99.94 L509.54,98.77 L509.87,97.59 L510.22,96.42 L510.57,95.25 L510.94,94.08 L511.32,92.92 L511.71,91.76 L512.11,90.61 L512.52,89.46 L512.95,88.32 L513.38,87.18 L513.82,86.04 L514.28,84.91 L514.75,83.79 L515.23,82.67 L515.72,81.56 L516.22,80.45 L516.73,79.35 L517.25,78.25 L517.78,77.16 L518.33,76.07 L518.88,75.00 L519.45,73.93 L520.02,72.86 L520.61,71.80 L521.21,70.75 L521.82,69.71 L522.44,68.67 L523.06,67.65 L523.70,66.62 L524.36,65.61 L525.02,64.61 L525.69,63.61 L526.37,62.62 L527.06,61.64 L527.76,60.67 L528.48,59.71 L529.20,58.76 L529.93,57.81 L530.68,56.88 L531.43,55.95 L532.20,55.04 L532.97,54.13 L533.76,53.23 L534.55,52.35 L535.35,51.47 L536.17,50.61 L536.99,49.75 L537.83,48.91 L538.67,48.08 L539.53,47.26 L540.39,46.45 L541.27,45.65 L542.15,44.86 L543.05,44.08 L543.95,43.32 L544.86,42.57 L545.79,41.83 L546.72,41.10 L547.66,40.38 L548.62,39.68 L549.58,38.99 L550.55,38.31 L551.52,37.64 L552.51,36.99 L553.51,36.34 L554.51,35.71 L555.52,35.08 L556.54,34.47 L557.57,33.87 L558.60,33.28 L559.65,32.70 L560.70,32.13 L561.75,31.57 L562.81,31.02 L563.88,30.49 L564.96,29.96 L566.04,29.44 L567.13,28.93 L568.22,28.43 L569.32,27.94 L570.42,27.46 L571.53,26.99 L572.65,26.52 L573.77,26.07 L574.89,25.62 L576.02,25.19 L577.15,24.76 L578.29,24.34 L579.43,23.93 L580.58,23.53 L581.73,23.13 L582.88,22.74 L584.03,22.36 L585.19,21.99 L586.35,21.63 L587.52,21.27 L588.68,20.92 L589.85,20.58 L591.02,20.24 L592.20,19.91 L593.37,19.59 L594.55,19.27 L595.73,18.96 L596.91,18.66 L598.09,18.36 L599.27,18.07 L600.46,17.79 L601.65,17.51 L602.84,17.24 L604.03,16.98 L605.22,16.72 L606.42,16.46 L607.61,16.21 L608.81,15.97 L610.01,15.73 L611.21,15.50 L612.41,15.27 L613.61,15.05 L614.82,14.84 L616.02,14.63 L617.23,14.42 L618.43,14.22 L619.64,14.02 L620.85,13.83 L622.06,13.64 L623.27,13.46 L624.48,13.28 L625.69,13.11 L626.91,12.94 L628.12,12.77 L629.33,12.61 L630.55,12.45 L631.76,12.30 L632.98,12.15 L634.19,12.00 L635.41,11.85 L636.62,11.72 L637.84,11.58 L639.06,11.45 L640.27,11.32 L641.49,11.19 L642.71,11.06 L643.92,10.94 L645.14,10.83 L646.36,10.71 L647.57,10.60 L648.79,10.49 L650.00,10.38 L651.22,10.27 L652.43,10.17 L653.65,10.07 L654.86,9.97 L656.08,9.87 L657.29,9.78 L658.50,9.69 L659.71,9.60 L660.92,9.51 L662.14,9.42 L663.34,9.33 L664.55,9.25 L665.76,9.16 L666.97,9.08 L668.17,9.00 L669.38,8.92 L670.58,8.84 L671.78,8.76 L672.98,8.68 L674.18,8.60 L675.38,8.52 L676.58,8.45 L677.77,8.37 L678.97,8.29 L680.16,8.22 L681.35,8.14 L682.54,8.06 L683.73,7.99 L684.91,7.91 L686.10,7.83 L687.28,7.76 L688.46,7.68 L689.64,7.60 L690.81,7.52 L691.99,7.44 L693.16,7.36 L694.33,7.28 L695.50,7.20" fill="none" stroke="#6c10dc" stroke-width="1.5" stroke-linejoin="round" stroke-dasharray="1.3,1.35"/>
<text x="437.90" y="55.20" font-size="6.5" text-anchor="middle" fill="#111" stroke="#111" >End</text>
<line x1="441.00" y1="57.60" x2="444.57" y2="64.61" stroke="#111" stroke-width="0.9" stroke-dasharray="1.8,1.3"/>
<path d="M446.70,68.80 L443.14,64.78 L445.54,63.55 Z" fill="#111"/>
<text x="435.80" y="108.80" font-size="6.5" text-anchor="middle" fill="#111" stroke="#111" >Start</text>
<line x1="438.30" y1="96.90" x2="444.44" y2="83.57" stroke="#111" stroke-width="0.9" />
<path d="M446.40,79.30 L445.45,84.59 L443.00,83.46 Z" fill="#111"/>
<line x1="466.70" y1="154.00" x2="469.43" y2="144.23" stroke="#111" stroke-width="0.9" />
<path d="M470.70,139.70 L470.60,145.07 L468.00,144.34 Z" fill="#111"/>
<line x1="540.10" y1="35.80" x2="554.73" y2="29.07" stroke="#111" stroke-width="0.9" />
<path d="M559.00,27.10 L554.84,30.50 L553.71,28.05 Z" fill="#111"/>
<line x1="693.30" y1="29.60" x2="695.07" y2="19.73" stroke="#111" stroke-width="0.9" />
<path d="M695.90,15.10 L696.31,20.46 L693.65,19.98 Z" fill="#111"/>
<text x="695.80" y="41.20" font-size="6.5" text-anchor="middle" fill="#111" stroke="#111" >Reverse</text>
<text x="619.00" y="194.00" font-size="10.8" text-anchor="start" fill="#111" stroke="#111" >Scan rate 2 mV/s</text>
<text x="619.00" y="207.20" font-size="10.8" fill="#111" stroke="#111">W.E. <tspan fill="#6c10dc" stroke="#6c10dc">Cr</tspan></text>
<text transform="translate(388.60,115.20) rotate(-90)" font-size="10" text-anchor="middle" fill="#111" stroke="#111">Current Density (A/cm<tspan font-size="11.50" dy="-4.8">2</tspan><tspan dy="4.8">)</tspan></text>
<text x="572.50" y="243.30" font-size="10" text-anchor="middle" fill="#111" stroke="#111">Potential (V) vs Mg|Mg<tspan font-size="6.50" dy="-5">2+</tspan><tspan dy="5" xml:space="preserve">  (RE)</tspan></text>
<rect x="54.9" y="252.8" width="293.6" height="214.5" fill="none" stroke="#222" stroke-width="1.25"/>
<line x1="51.90" y1="271.30" x2="54.90" y2="271.30" stroke="#222" stroke-width="1.2" />
<text transform="translate(49.70,274.30) scale(1,1.03)" font-size="9.4" text-anchor="end" fill="#111" stroke="#111">0.1</text>
<line x1="53.30" y1="259.50" x2="54.90" y2="259.50" stroke="#222" stroke-width="0.9" />
<line x1="51.90" y1="310.50" x2="54.90" y2="310.50" stroke="#222" stroke-width="1.2" />
<text transform="translate(49.70,313.50) scale(1,1.03)" font-size="9.4" text-anchor="end" fill="#111" stroke="#111">0.01</text>
<line x1="53.30" y1="298.70" x2="54.90" y2="298.70" stroke="#222" stroke-width="0.9" />
<line x1="53.30" y1="291.80" x2="54.90" y2="291.80" stroke="#222" stroke-width="0.9" />
<line x1="53.30" y1="286.90" x2="54.90" y2="286.90" stroke="#222" stroke-width="0.9" />
<line x1="53.30" y1="283.10" x2="54.90" y2="283.10" stroke="#222" stroke-width="0.9" />
<line x1="53.30" y1="280.00" x2="54.90" y2="280.00" stroke="#222" stroke-width="0.9" />
<line x1="53.30" y1="277.37" x2="54.90" y2="277.37" stroke="#222" stroke-width="0.9" />
<line x1="53.30" y1="275.10" x2="54.90" y2="275.10" stroke="#222" stroke-width="0.9" />
<line x1="53.30" y1="273.09" x2="54.90" y2="273.09" stroke="#222" stroke-width="0.9" />
<line x1="51.90" y1="349.70" x2="54.90" y2="349.70" stroke="#222" stroke-width="1.2" />
<text transform="translate(49.70,352.70) scale(1,1.03)" font-size="9.4" text-anchor="end" fill="#111" stroke="#111">0.001</text>
<line x1="53.30" y1="337.90" x2="54.90" y2="337.90" stroke="#222" stroke-width="0.9" />
<line x1="53.30" y1="331.00" x2="54.90" y2="331.00" stroke="#222" stroke-width="0.9" />
<line x1="53.30" y1="326.10" x2="54.90" y2="326.10" stroke="#222" stroke-width="0.9" />
<line x1="53.30" y1="322.30" x2="54.90" y2="322.30" stroke="#222" stroke-width="0.9" />
<line x1="53.30" y1="319.20" x2="54.90" y2="319.20" stroke="#222" stroke-width="0.9" />
<line x1="53.30" y1="316.57" x2="54.90" y2="316.57" stroke="#222" stroke-width="0.9" />
<line x1="53.30" y1="314.30" x2="54.90" y2="314.30" stroke="#222" stroke-width="0.9" />
<line x1="53.30" y1="312.29" x2="54.90" y2="312.29" stroke="#222" stroke-width="0.9" />
<line x1="51.90" y1="388.90" x2="54.90" y2="388.90" stroke="#222" stroke-width="1.2" />
<text transform="translate(49.70,391.90) scale(1,1.03)" font-size="9.4" text-anchor="end" fill="#111" stroke="#111">1E-4</text>
<line x1="53.30" y1="377.10" x2="54.90" y2="377.10" stroke="#222" stroke-width="0.9" />
<line x1="53.30" y1="370.20" x2="54.90" y2="370.20" stroke="#222" stroke-width="0.9" />
<line x1="53.30" y1="365.30" x2="54.90" y2="365.30" stroke="#222" stroke-width="0.9" />
<line x1="53.30" y1="361.50" x2="54.90" y2="361.50" stroke="#222" stroke-width="0.9" />
<line x1="53.30" y1="358.40" x2="54.90" y2="358.40" stroke="#222" stroke-width="0.9" />
<line x1="53.30" y1="355.77" x2="54.90" y2="355.77" stroke="#222" stroke-width="0.9" />
<line x1="53.30" y1="353.50" x2="54.90" y2="353.50" stroke="#222" stroke-width="0.9" />
<line x1="53.30" y1="351.49" x2="54.90" y2="351.49" stroke="#222" stroke-width="0.9" />
<line x1="51.90" y1="428.10" x2="54.90" y2="428.10" stroke="#222" stroke-width="1.2" />
<text transform="translate(49.70,431.10) scale(1,1.03)" font-size="9.4" text-anchor="end" fill="#111" stroke="#111">1E-5</text>
<line x1="53.30" y1="416.30" x2="54.90" y2="416.30" stroke="#222" stroke-width="0.9" />
<line x1="53.30" y1="409.40" x2="54.90" y2="409.40" stroke="#222" stroke-width="0.9" />
<line x1="53.30" y1="404.50" x2="54.90" y2="404.50" stroke="#222" stroke-width="0.9" />
<line x1="53.30" y1="400.70" x2="54.90" y2="400.70" stroke="#222" stroke-width="0.9" />
<line x1="53.30" y1="397.60" x2="54.90" y2="397.60" stroke="#222" stroke-width="0.9" />
<line x1="53.30" y1="394.97" x2="54.90" y2="394.97" stroke="#222" stroke-width="0.9" />
<line x1="53.30" y1="392.70" x2="54.90" y2="392.70" stroke="#222" stroke-width="0.9" />
<line x1="53.30" y1="390.69" x2="54.90" y2="390.69" stroke="#222" stroke-width="0.9" />
<line x1="51.90" y1="467.30" x2="54.90" y2="467.30" stroke="#222" stroke-width="1.2" />
<text transform="translate(49.70,470.30) scale(1,1.03)" font-size="9.4" text-anchor="end" fill="#111" stroke="#111">1E-6</text>
<line x1="53.30" y1="455.50" x2="54.90" y2="455.50" stroke="#222" stroke-width="0.9" />
<line x1="53.30" y1="448.60" x2="54.90" y2="448.60" stroke="#222" stroke-width="0.9" />
<line x1="53.30" y1="443.70" x2="54.90" y2="443.70" stroke="#222" stroke-width="0.9" />
<line x1="53.30" y1="439.90" x2="54.90" y2="439.90" stroke="#222" stroke-width="0.9" />
<line x1="53.30" y1="436.80" x2="54.90" y2="436.80" stroke="#222" stroke-width="0.9" />
<line x1="53.30" y1="434.17" x2="54.90" y2="434.17" stroke="#222" stroke-width="0.9" />
<line x1="53.30" y1="431.90" x2="54.90" y2="431.90" stroke="#222" stroke-width="0.9" />
<line x1="53.30" y1="429.89" x2="54.90" y2="429.89" stroke="#222" stroke-width="0.9" />
<line x1="347.00" y1="259.50" x2="348.50" y2="259.50" stroke="#222" stroke-width="0.8" />
<line x1="345.50" y1="271.30" x2="348.50" y2="271.30" stroke="#222" stroke-width="1.2" />
<line x1="347.00" y1="298.70" x2="348.50" y2="298.70" stroke="#222" stroke-width="0.8" />
<line x1="347.00" y1="291.80" x2="348.50" y2="291.80" stroke="#222" stroke-width="0.8" />
<line x1="347.00" y1="286.90" x2="348.50" y2="286.90" stroke="#222" stroke-width="0.8" />
<line x1="347.00" y1="283.10" x2="348.50" y2="283.10" stroke="#222" stroke-width="0.8" />
<line x1="347.00" y1="280.00" x2="348.50" y2="280.00" stroke="#222" stroke-width="0.8" />
<line x1="347.00" y1="277.37" x2="348.50" y2="277.37" stroke="#222" stroke-width="0.8" />
<line x1="347.00" y1="275.10" x2="348.50" y2="275.10" stroke="#222" stroke-width="0.8" />
<line x1="347.00" y1="273.09" x2="348.50" y2="273.09" stroke="#222" stroke-width="0.8" />
<line x1="345.50" y1="310.50" x2="348.50" y2="310.50" stroke="#222" stroke-width="1.2" />
<line x1="347.00" y1="337.90" x2="348.50" y2="337.90" stroke="#222" stroke-width="0.8" />
<line x1="347.00" y1="331.00" x2="348.50" y2="331.00" stroke="#222" stroke-width="0.8" />
<line x1="347.00" y1="326.10" x2="348.50" y2="326.10" stroke="#222" stroke-width="0.8" />
<line x1="347.00" y1="322.30" x2="348.50" y2="322.30" stroke="#222" stroke-width="0.8" />
<line x1="347.00" y1="319.20" x2="348.50" y2="319.20" stroke="#222" stroke-width="0.8" />
<line x1="347.00" y1="316.57" x2="348.50" y2="316.57" stroke="#222" stroke-width="0.8" />
<line x1="347.00" y1="314.30" x2="348.50" y2="314.30" stroke="#222" stroke-width="0.8" />
<line x1="347.00" y1="312.29" x2="348.50" y2="312.29" stroke="#222" stroke-width="0.8" />
<line x1="345.50" y1="349.70" x2="348.50" y2="349.70" stroke="#222" stroke-width="1.2" />
<line x1="347.00" y1="377.10" x2="348.50" y2="377.10" stroke="#222" stroke-width="0.8" />
<line x1="347.00" y1="370.20" x2="348.50" y2="370.20" stroke="#222" stroke-width="0.8" />
<line x1="347.00" y1="365.30" x2="348.50" y2="365.30" stroke="#222" stroke-width="0.8" />
<line x1="347.00" y1="361.50" x2="348.50" y2="361.50" stroke="#222" stroke-width="0.8" />
<line x1="347.00" y1="358.40" x2="348.50" y2="358.40" stroke="#222" stroke-width="0.8" />
<line x1="347.00" y1="355.77" x2="348.50" y2="355.77" stroke="#222" stroke-width="0.8" />
<line x1="347.00" y1="353.50" x2="348.50" y2="353.50" stroke="#222" stroke-width="0.8" />
<line x1="347.00" y1="351.49" x2="348.50" y2="351.49" stroke="#222" stroke-width="0.8" />
<line x1="345.50" y1="388.90" x2="348.50" y2="388.90" stroke="#222" stroke-width="1.2" />
<line x1="347.00" y1="416.30" x2="348.50" y2="416.30" stroke="#222" stroke-width="0.8" />
<line x1="347.00" y1="409.40" x2="348.50" y2="409.40" stroke="#222" stroke-width="0.8" />
<line x1="347.00" y1="404.50" x2="348.50" y2="404.50" stroke="#222" stroke-width="0.8" />
<line x1="347.00" y1="400.70" x2="348.50" y2="400.70" stroke="#222" stroke-width="0.8" />
<line x1="347.00" y1="397.60" x2="348.50" y2="397.60" stroke="#222" stroke-width="0.8" />
<line x1="347.00" y1="394.97" x2="348.50" y2="394.97" stroke="#222" stroke-width="0.8" />
<line x1="347.00" y1="392.70" x2="348.50" y2="392.70" stroke="#222" stroke-width="0.8" />
<line x1="347.00" y1="390.69" x2="348.50" y2="390.69" stroke="#222" stroke-width="0.8" />
<line x1="345.50" y1="428.10" x2="348.50" y2="428.10" stroke="#222" stroke-width="1.2" />
<line x1="347.00" y1="455.50" x2="348.50" y2="455.50" stroke="#222" stroke-width="0.8" />
<line x1="347.00" y1="448.60" x2="348.50" y2="448.60" stroke="#222" stroke-width="0.8" />
<line x1="347.00" y1="443.70" x2="348.50" y2="443.70" stroke="#222" stroke-width="0.8" />
<line x1="347.00" y1="439.90" x2="348.50" y2="439.90" stroke="#222" stroke-width="0.8" />
<line x1="347.00" y1="436.80" x2="348.50" y2="436.80" stroke="#222" stroke-width="0.8" />
<line x1="347.00" y1="434.17" x2="348.50" y2="434.17" stroke="#222" stroke-width="0.8" />
<line x1="347.00" y1="431.90" x2="348.50" y2="431.90" stroke="#222" stroke-width="0.8" />
<line x1="347.00" y1="429.89" x2="348.50" y2="429.89" stroke="#222" stroke-width="0.8" />
<line x1="345.50" y1="467.30" x2="348.50" y2="467.30" stroke="#222" stroke-width="1.2" />
<line x1="75.90" y1="252.80" x2="75.90" y2="254.40" stroke="#222" stroke-width="1.0" />
<line x1="96.85" y1="252.80" x2="96.85" y2="255.40" stroke="#222" stroke-width="1.0" />
<line x1="117.80" y1="252.80" x2="117.80" y2="254.40" stroke="#222" stroke-width="1.0" />
<line x1="138.75" y1="252.80" x2="138.75" y2="255.40" stroke="#222" stroke-width="1.0" />
<line x1="159.70" y1="252.80" x2="159.70" y2="254.40" stroke="#222" stroke-width="1.0" />
<line x1="180.65" y1="252.80" x2="180.65" y2="255.40" stroke="#222" stroke-width="1.0" />
<line x1="201.60" y1="252.80" x2="201.60" y2="254.40" stroke="#222" stroke-width="1.0" />
<line x1="222.55" y1="252.80" x2="222.55" y2="255.40" stroke="#222" stroke-width="1.0" />
<line x1="243.50" y1="252.80" x2="243.50" y2="254.40" stroke="#222" stroke-width="1.0" />
<line x1="264.45" y1="252.80" x2="264.45" y2="255.40" stroke="#222" stroke-width="1.0" />
<line x1="285.40" y1="252.80" x2="285.40" y2="254.40" stroke="#222" stroke-width="1.0" />
<line x1="306.35" y1="252.80" x2="306.35" y2="255.40" stroke="#222" stroke-width="1.0" />
<line x1="327.30" y1="252.80" x2="327.30" y2="254.40" stroke="#222" stroke-width="1.0" />
<line x1="54.90" y1="467.30" x2="54.90" y2="470.30" stroke="#222" stroke-width="1.2" />
<text transform="translate(54.90,479.70) scale(1,1.03)" font-size="9.4" text-anchor="middle" fill="#111" stroke="#111">1.2</text>
<line x1="100.02" y1="467.30" x2="100.02" y2="470.30" stroke="#222" stroke-width="1.2" />
<text transform="translate(100.02,479.70) scale(1,1.03)" font-size="9.4" text-anchor="middle" fill="#111" stroke="#111">1.3</text>
<line x1="145.13" y1="467.30" x2="145.13" y2="470.30" stroke="#222" stroke-width="1.2" />
<text transform="translate(145.13,479.70) scale(1,1.03)" font-size="9.4" text-anchor="middle" fill="#111" stroke="#111">1.4</text>
<line x1="190.25" y1="467.30" x2="190.25" y2="470.30" stroke="#222" stroke-width="1.2" />
<text transform="translate(190.25,479.70) scale(1,1.03)" font-size="9.4" text-anchor="middle" fill="#111" stroke="#111">1.5</text>
<line x1="235.37" y1="467.30" x2="235.37" y2="470.30" stroke="#222" stroke-width="1.2" />
<text transform="translate(235.37,479.70) scale(1,1.03)" font-size="9.4" text-anchor="middle" fill="#111" stroke="#111">1.6</text>
<line x1="280.48" y1="467.30" x2="280.48" y2="470.30" stroke="#222" stroke-width="1.2" />
<text transform="translate(280.48,479.70) scale(1,1.03)" font-size="9.4" text-anchor="middle" fill="#111" stroke="#111">1.7</text>
<line x1="325.60" y1="467.30" x2="325.60" y2="470.30" stroke="#222" stroke-width="1.2" />
<text transform="translate(325.60,479.70) scale(1,1.03)" font-size="9.4" text-anchor="middle" fill="#111" stroke="#111">1.8</text>
<line x1="77.46" y1="467.30" x2="77.46" y2="469.10" stroke="#222" stroke-width="1.0" />
<line x1="122.58" y1="467.30" x2="122.58" y2="469.10" stroke="#222" stroke-width="1.0" />
<line x1="167.69" y1="467.30" x2="167.69" y2="469.10" stroke="#222" stroke-width="1.0" />
<line x1="212.81" y1="467.30" x2="212.81" y2="469.10" stroke="#222" stroke-width="1.0" />
<line x1="257.93" y1="467.30" x2="257.93" y2="469.10" stroke="#222" stroke-width="1.0" />
<line x1="303.04" y1="467.30" x2="303.04" y2="469.10" stroke="#222" stroke-width="1.0" />
<text x="0.60" y="266.50" font-size="17.5" text-anchor="start" fill="#111" stroke="#111" >(c)</text>
<path d="M77.20,333.40 L77.73,334.52 L78.25,335.63 L78.77,336.76 L79.28,337.89 L79.77,339.02 L80.26,340.15 L80.74,341.29 L81.21,342.44 L81.67,343.58 L82.13,344.73 L82.57,345.89 L83.00,347.05 L83.43,348.21 L83.85,349.37 L84.25,350.54 L84.65,351.71 L85.04,352.88 L85.42,354.06 L85.79,355.24 L86.15,356.42 L86.50,357.61 L86.84,358.80 L87.17,359.99 L87.49,361.18 L87.80,362.38 L88.10,363.58 L88.39,364.78 L88.67,365.98 L88.94,367.19 L89.20,368.40 L89.45,369.61 L89.69,370.82 L89.92,372.03 L90.13,373.25 L90.34,374.47 L90.54,375.69 L90.73,376.91 L90.90,378.13 L91.07,379.36 L91.22,380.58 L91.37,381.81 L91.50,383.04 L91.62,384.27 L91.73,385.50 L91.83,386.73 L91.92,387.97 L92.00,389.20 L92.06,390.43 L92.12,391.67 L92.16,392.91 L92.19,394.14 L92.21,395.38 L92.22,396.62 L92.22,397.86 L92.20,399.10 M92.20,399.10 L92.10,397.83 L92.00,396.56 L91.93,395.30 L91.86,394.03 L91.81,392.77 L91.78,391.51 L91.76,390.25 L91.75,389.00 L91.76,387.74 L91.78,386.49 L91.82,385.24 L91.87,384.00 L91.93,382.76 L92.01,381.52 L92.11,380.28 L92.21,379.05 L92.33,377.82 L92.46,376.59 L92.61,375.37 L92.77,374.15 L92.95,372.93 L93.13,371.72 L93.34,370.51 L93.55,369.31 L93.78,368.11 L94.02,366.91 L94.27,365.72 L94.54,364.54 L94.82,363.36 L95.12,362.18 L95.42,361.01 L95.74,359.84 L96.08,358.68 L96.42,357.53 L96.78,356.38 L97.15,355.23 L97.53,354.09 L97.93,352.96 L98.34,351.83 L98.76,350.71 L99.19,349.60 L99.64,348.49 L100.10,347.38 L100.57,346.29 L101.05,345.20 L101.55,344.12 L102.06,343.04 L102.58,341.97 L103.11,340.91 L103.65,339.86 L104.21,338.81 L104.77,337.77 L105.35,336.74 L105.94,335.71 L106.55,334.70 L107.16,333.69 L107.79,332.69 L108.43,331.70 L109.07,330.71 L109.73,329.74 L110.41,328.77 L111.09,327.81 L111.78,326.86 L112.49,325.92 L113.21,324.99 L113.93,324.07 L114.67,323.15 L115.42,322.25 L116.18,321.35 L116.96,320.47 L117.74,319.59 L118.53,318.73 L119.34,317.87 L120.15,317.02 L120.98,316.19 L121.81,315.36 L122.65,314.54 L123.51,313.73 L124.37,312.93 L125.25,312.14 L126.13,311.36 L127.02,310.58 L127.92,309.82 L128.83,309.07 L129.75,308.32 L130.68,307.58 L131.61,306.85 L132.55,306.13 L133.50,305.42 L134.46,304.72 L135.43,304.03 L136.40,303.34 L137.38,302.66 L138.37,301.99 L139.37,301.33 L140.37,300.68 L141.38,300.03 L142.39,299.40 L143.41,298.77 L144.44,298.15 L145.47,297.53 L146.51,296.93 L147.56,296.33 L148.61,295.74 L149.67,295.16 L150.73,294.58 L151.79,294.01 L152.86,293.45 L153.94,292.90 L155.02,292.35 L156.11,291.81 L157.19,291.28 L158.29,290.75 L159.38,290.24 L160.48,289.72 L161.59,289.22 L162.70,288.72 L163.81,288.23 L164.92,287.75 L166.04,287.27 L167.16,286.80 L168.28,286.33 L169.40,285.87 L170.53,285.42 L171.66,284.97 L172.79,284.53 L173.92,284.10 L175.06,283.67 L176.19,283.25 L177.33,282.83 L178.47,282.42 L179.61,282.02 L180.76,281.62 L181.90,281.23 L183.05,280.84 L184.19,280.46 L185.34,280.08 L186.49,279.71 L187.65,279.35 L188.80,278.99 L189.96,278.63 L191.11,278.28 L192.27,277.94 L193.43,277.60 L194.59,277.26 L195.76,276.93 L196.92,276.61 L198.08,276.29 L199.25,275.98 L200.42,275.67 L201.59,275.36 L202.76,275.06 L203.93,274.77 L205.10,274.47 L206.28,274.19 L207.45,273.91 L208.63,273.63 L209.80,273.35 L210.98,273.09 L212.16,272.82 L213.34,272.56 L214.52,272.30 L215.71,272.05 L216.89,271.80 L218.08,271.56 L219.26,271.32 L220.45,271.08 L221.63,270.85 L222.82,270.62 L224.01,270.39 L225.20,270.17 L226.39,269.95 L227.58,269.73 L228.78,269.52 L229.97,269.31 L231.16,269.11 L232.36,268.91 L233.55,268.71 L234.75,268.51 L235.95,268.32 L237.14,268.13 L238.34,267.94 L239.54,267.76 L240.74,267.58 L241.94,267.40 L243.14,267.23 L244.34,267.05 L245.54,266.88 L246.74,266.72 L247.94,266.55 L249.14,266.39 L250.35,266.23 L251.55,266.07 L252.75,265.92 L253.96,265.76 L255.16,265.61 L256.36,265.46 L257.57,265.32 L258.77,265.17 L259.98,265.03 L261.18,264.89 L262.39,264.75 L263.59,264.61 L264.80,264.48 L266.01,264.34 L267.21,264.21 L268.42,264.08 L269.62,263.95 L270.83,263.82 L272.04,263.70 L273.24,263.57 L274.45,263.45 L275.65,263.32 L276.86,263.20 L278.06,263.08 L279.27,262.96 L280.48,262.85 L281.68,262.73 L282.89,262.61 L284.09,262.50 L285.30,262.38 L286.50,262.27 L287.70,262.15 L288.91,262.04 L290.11,261.93 L291.31,261.82 L292.52,261.71 L293.72,261.59 L294.92,261.48 L296.12,261.37 L297.32,261.26 L298.53,261.15 L299.73,261.04 L300.93,260.93 L302.12,260.82 L303.32,260.71 L304.52,260.60 L305.72,260.49 L306.92,260.38 L308.11,260.27 L309.31,260.16 L310.50,260.05 L311.70,259.93 L312.89,259.82 L314.08,259.71 L315.27,259.59 L316.47,259.48 L317.66,259.36 L318.84,259.25 L320.03,259.13 L321.22,259.01 L322.41,258.89 L323.59,258.77 L324.78,258.65 L325.96,258.53 L327.15,258.40 L328.33,258.28 L329.51,258.15 L330.69,258.02 L331.87,257.89 L333.05,257.76 L334.22,257.63 L335.40,257.50" fill="none" stroke="#fb7d12" stroke-width="1.75" stroke-linejoin="round" />
<path d="M78.10,321.80 L79.48,321.41 L80.85,321.07 L82.20,320.79 L83.53,320.57 L84.85,320.40 L86.15,320.29 L87.43,320.24 L88.69,320.23 L89.93,320.28 L91.15,320.38 L92.35,320.53 L93.53,320.72 L94.69,320.97 L95.83,321.26 L96.94,321.60 L98.03,321.98 L99.09,322.40 L100.14,322.87 L101.15,323.38 L102.14,323.92 L103.11,324.51 L104.05,325.13 L104.96,325.79 L105.84,326.49 L106.70,327.22 L107.53,327.99 L108.33,328.79 L109.09,329.62 L109.83,330.48 L110.54,331.37 L111.22,332.29 L111.86,333.23 L112.47,334.20 L113.05,335.20 L113.60,336.22 L114.12,337.26 L114.61,338.33 L115.07,339.42 L115.51,340.53 L115.91,341.65 L116.29,342.80 L116.65,343.96 L116.98,345.14 L117.29,346.33 L117.57,347.54 L117.84,348.76 L118.08,349.99 L118.30,351.23 L118.50,352.48 L118.69,353.75 L118.85,355.01 L119.00,356.29 L119.14,357.57 L119.26,358.86 L119.36,360.15 L119.45,361.44 L119.53,362.73 L119.60,364.03 L119.65,365.32 L119.70,366.62 L119.74,367.91 L119.77,369.20 L119.79,370.48 L119.80,371.75 L119.81,373.03 L119.81,374.29 L119.81,375.54 L119.81,376.79 L119.80,378.02 L119.79,379.24 L119.78,380.45 L119.77,381.65 L119.76,382.83 L119.76,384.00 L119.75,385.14 L119.75,386.28 L119.76,387.39 L119.76,388.48 L119.78,389.55 L119.80,390.60 M119.80,390.60 L119.91,389.49 L120.00,388.36 L120.09,387.23 L120.17,386.08 L120.24,384.93 L120.30,383.76 L120.36,382.59 L120.41,381.40 L120.46,380.21 L120.51,379.01 L120.55,377.81 L120.58,376.59 L120.62,375.37 L120.65,374.15 L120.69,372.92 L120.72,371.68 L120.75,370.44 L120.78,369.20 L120.82,367.95 L120.85,366.70 L120.89,365.44 L120.94,364.19 L120.98,362.93 L121.03,361.67 L121.09,360.41 L121.15,359.15 L121.22,357.88 L121.30,356.62 L121.38,355.36 L121.47,354.11 L121.57,352.85 L121.68,351.60 L121.80,350.34 L121.93,349.10 L122.08,347.85 L122.23,346.61 L122.40,345.38 L122.58,344.15 L122.78,342.92 L122.99,341.70 L123.21,340.49 L123.45,339.28 L123.71,338.09 L123.98,336.89 L124.28,335.71 L124.59,334.54 L124.92,333.37 L125.27,332.22 L125.64,331.07 L126.02,329.94 L126.43,328.82 L126.86,327.70 L127.31,326.60 L127.77,325.51 L128.26,324.43 L128.77,323.36 L129.29,322.30 L129.84,321.26 L130.40,320.23 L130.99,319.21 L131.59,318.21 L132.22,317.22 L132.86,316.24 L133.53,315.28 L134.21,314.33 L134.92,313.39 L135.65,312.47 L136.39,311.57 L137.16,310.68 L137.94,309.81 L138.75,308.95 L139.57,308.11 L140.41,307.28 L141.26,306.46 L142.13,305.66 L143.02,304.87 L143.92,304.10 L144.84,303.33 L145.76,302.58 L146.70,301.85 L147.66,301.12 L148.62,300.41 L149.59,299.70 L150.57,299.01 L151.56,298.33 L152.56,297.66 L153.57,297.00 L154.58,296.35 L155.60,295.71 L156.62,295.08 L157.65,294.46 L158.69,293.85 L159.72,293.25 L160.77,292.66 L161.81,292.07 L162.86,291.50 L163.92,290.93 L164.97,290.37 L166.04,289.82 L167.10,289.28 L168.17,288.75 L169.25,288.22 L170.33,287.71 L171.41,287.20 L172.49,286.70 L173.58,286.21 L174.68,285.72 L175.77,285.24 L176.87,284.78 L177.98,284.31 L179.09,283.86 L180.20,283.42 L181.31,282.98 L182.43,282.55 L183.55,282.12 L184.67,281.70 L185.80,281.30 L186.93,280.89 L188.06,280.50 L189.20,280.11 L190.34,279.73 L191.48,279.35 L192.62,278.98 L193.77,278.62 L194.92,278.26 L196.08,277.91 L197.23,277.57 L198.39,277.23 L199.55,276.90 L200.72,276.58 L201.88,276.26 L203.05,275.95 L204.22,275.64 L205.40,275.34 L206.57,275.04 L207.75,274.75 L208.93,274.47 L210.11,274.19 L211.30,273.91 L212.48,273.64 L213.67,273.38 L214.86,273.12 L216.05,272.87 L217.25,272.62 L218.44,272.37 L219.64,272.14 L220.84,271.90 L222.04,271.67 L223.25,271.45 L224.45,271.22 L225.66,271.01 L226.86,270.79 L228.07,270.59 L229.28,270.38 L230.49,270.18 L231.71,269.98 L232.92,269.79 L234.13,269.60 L235.35,269.42 L236.57,269.24 L237.79,269.06 L239.01,268.88 L240.23,268.71 L241.45,268.54 L242.67,268.38 L243.89,268.22 L245.11,268.06 L246.34,267.90 L247.56,267.75 L248.79,267.60 L250.01,267.45 L251.24,267.31 L252.47,267.16 L253.69,267.02 L254.92,266.89 L256.15,266.75 L257.38,266.62 L258.61,266.49 L259.83,266.36 L261.06,266.23 L262.29,266.11 L263.52,265.98 L264.75,265.86 L265.98,265.74 L267.21,265.62 L268.43,265.51 L269.66,265.39 L270.89,265.28 L272.12,265.16 L273.34,265.05 L274.57,264.94 L275.80,264.83 L277.02,264.72 L278.25,264.62 L279.47,264.51 L280.69,264.40 L281.92,264.30 L283.14,264.19 L284.36,264.08 L285.58,263.98 L286.80,263.88 L288.02,263.77 L289.23,263.67 L290.45,263.56 L291.67,263.46 L292.88,263.35 L294.09,263.25 L295.30,263.14 L296.51,263.04 L297.72,262.93 L298.93,262.83 L300.14,262.72 L301.34,262.61 L302.54,262.50 L303.75,262.39 L304.95,262.28 L306.14,262.17 L307.34,262.06 L308.53,261.94 L309.73,261.83 L310.92,261.71 L312.11,261.59 L313.29,261.47 L314.48,261.35 L315.66,261.23 L316.84,261.10 L318.02,260.98 L319.20,260.85 L320.37,260.72 L321.54,260.59 L322.71,260.45 L323.88,260.31 L325.04,260.17 L326.20,260.03 L327.36,259.89 L328.52,259.74 L329.67,259.59 L330.82,259.44 L331.97,259.28 L333.12,259.12 L334.26,258.96 L335.40,258.80" fill="none" stroke="#fb7d12" stroke-width="1.5" stroke-linejoin="round" stroke-dasharray="1.3,1.35"/>
<text x="68.30" y="305.80" font-size="6.5" text-anchor="middle" fill="#111" stroke="#111" >End</text>
<line x1="71.90" y1="312.50" x2="75.18" y2="319.00" stroke="#111" stroke-width="0.9" stroke-dasharray="1.8,1.3"/>
<path d="M77.30,323.20 L73.75,319.17 L76.16,317.95 Z" fill="#111"/>
<text x="66.90" y="368.30" font-size="6.5" text-anchor="middle" fill="#111" stroke="#111" >Start</text>
<line x1="68.30" y1="356.60" x2="73.42" y2="344.91" stroke="#111" stroke-width="0.9" />
<path d="M75.30,340.60 L74.45,345.91 L71.98,344.82 Z" fill="#111"/>
<line x1="97.00" y1="396.80" x2="99.43" y2="387.35" stroke="#111" stroke-width="0.9" />
<path d="M100.60,382.80 L100.61,388.17 L98.00,387.50 Z" fill="#111"/>
<line x1="165.00" y1="283.90" x2="179.35" y2="277.99" stroke="#111" stroke-width="0.9" />
<path d="M183.70,276.20 L179.41,279.43 L178.38,276.93 Z" fill="#111"/>
<line x1="330.00" y1="279.50" x2="331.94" y2="269.12" stroke="#111" stroke-width="0.9" />
<path d="M332.80,264.50 L333.17,269.86 L330.52,269.36 Z" fill="#111"/>
<text x="328.00" y="289.00" font-size="6.5" text-anchor="middle" fill="#111" stroke="#111" >Reverse</text>
<text x="249.80" y="444.70" font-size="10.8" text-anchor="start" fill="#111" stroke="#111" >Scan rate 2 mV/s</text>
<text x="249.80" y="458.30" font-size="10.8" fill="#111" stroke="#111">W.E. <tspan fill="#fb7d12" stroke="#fb7d12">Fe</tspan></text>
<text transform="translate(16.60,366.80) rotate(-90)" font-size="10" text-anchor="middle" fill="#111" stroke="#111">Current Density (A/cm<tspan font-size="11.50" dy="-4.8">2</tspan><tspan dy="4.8">)</tspan></text>
<text x="194.50" y="494.80" font-size="10" text-anchor="middle" fill="#111" stroke="#111">Potential (V) vs Mg|Mg<tspan font-size="6.50" dy="-5">2+</tspan><tspan dy="5" xml:space="preserve">  (RE)</tspan></text>
<rect x="423.9" y="252.65" width="294.20000000000005" height="214.65" fill="none" stroke="#222" stroke-width="1.25"/>
<line x1="420.90" y1="262.40" x2="423.90" y2="262.40" stroke="#222" stroke-width="1.2" />
<text transform="translate(418.70,265.40) scale(1,1.03)" font-size="9.4" text-anchor="end" fill="#111" stroke="#111">0.1</text>
<line x1="420.90" y1="296.55" x2="423.90" y2="296.55" stroke="#222" stroke-width="1.2" />
<text transform="translate(418.70,299.55) scale(1,1.03)" font-size="9.4" text-anchor="end" fill="#111" stroke="#111">0.01</text>
<line x1="422.30" y1="286.27" x2="423.90" y2="286.27" stroke="#222" stroke-width="0.9" />
<line x1="422.30" y1="280.26" x2="423.90" y2="280.26" stroke="#222" stroke-width="0.9" />
<line x1="422.30" y1="275.99" x2="423.90" y2="275.99" stroke="#222" stroke-width="0.9" />
<line x1="422.30" y1="272.68" x2="423.90" y2="272.68" stroke="#222" stroke-width="0.9" />
<line x1="422.30" y1="269.98" x2="423.90" y2="269.98" stroke="#222" stroke-width="0.9" />
<line x1="422.30" y1="267.69" x2="423.90" y2="267.69" stroke="#222" stroke-width="0.9" />
<line x1="422.30" y1="265.71" x2="423.90" y2="265.71" stroke="#222" stroke-width="0.9" />
<line x1="422.30" y1="263.96" x2="423.90" y2="263.96" stroke="#222" stroke-width="0.9" />
<line x1="420.90" y1="330.70" x2="423.90" y2="330.70" stroke="#222" stroke-width="1.2" />
<text transform="translate(418.70,333.70) scale(1,1.03)" font-size="9.4" text-anchor="end" fill="#111" stroke="#111">0.001</text>
<line x1="422.30" y1="320.42" x2="423.90" y2="320.42" stroke="#222" stroke-width="0.9" />
<line x1="422.30" y1="314.41" x2="423.90" y2="314.41" stroke="#222" stroke-width="0.9" />
<line x1="422.30" y1="310.14" x2="423.90" y2="310.14" stroke="#222" stroke-width="0.9" />
<line x1="422.30" y1="306.83" x2="423.90" y2="306.83" stroke="#222" stroke-width="0.9" />
<line x1="422.30" y1="304.13" x2="423.90" y2="304.13" stroke="#222" stroke-width="0.9" />
<line x1="422.30" y1="301.84" x2="423.90" y2="301.84" stroke="#222" stroke-width="0.9" />
<line x1="422.30" y1="299.86" x2="423.90" y2="299.86" stroke="#222" stroke-width="0.9" />
<line x1="422.30" y1="298.11" x2="423.90" y2="298.11" stroke="#222" stroke-width="0.9" />
<line x1="420.90" y1="364.85" x2="423.90" y2="364.85" stroke="#222" stroke-width="1.2" />
<text transform="translate(418.70,367.85) scale(1,1.03)" font-size="9.4" text-anchor="end" fill="#111" stroke="#111">1E-4</text>
<line x1="422.30" y1="354.57" x2="423.90" y2="354.57" stroke="#222" stroke-width="0.9" />
<line x1="422.30" y1="348.56" x2="423.90" y2="348.56" stroke="#222" stroke-width="0.9" />
<line x1="422.30" y1="344.29" x2="423.90" y2="344.29" stroke="#222" stroke-width="0.9" />
<line x1="422.30" y1="340.98" x2="423.90" y2="340.98" stroke="#222" stroke-width="0.9" />
<line x1="422.30" y1="338.28" x2="423.90" y2="338.28" stroke="#222" stroke-width="0.9" />
<line x1="422.30" y1="335.99" x2="423.90" y2="335.99" stroke="#222" stroke-width="0.9" />
<line x1="422.30" y1="334.01" x2="423.90" y2="334.01" stroke="#222" stroke-width="0.9" />
<line x1="422.30" y1="332.26" x2="423.90" y2="332.26" stroke="#222" stroke-width="0.9" />
<line x1="420.90" y1="399.00" x2="423.90" y2="399.00" stroke="#222" stroke-width="1.2" />
<text transform="translate(418.70,402.00) scale(1,1.03)" font-size="9.4" text-anchor="end" fill="#111" stroke="#111">1E-5</text>
<line x1="422.30" y1="388.72" x2="423.90" y2="388.72" stroke="#222" stroke-width="0.9" />
<line x1="422.30" y1="382.71" x2="423.90" y2="382.71" stroke="#222" stroke-width="0.9" />
<line x1="422.30" y1="378.44" x2="423.90" y2="378.44" stroke="#222" stroke-width="0.9" />
<line x1="422.30" y1="375.13" x2="423.90" y2="375.13" stroke="#222" stroke-width="0.9" />
<line x1="422.30" y1="372.43" x2="423.90" y2="372.43" stroke="#222" stroke-width="0.9" />
<line x1="422.30" y1="370.14" x2="423.90" y2="370.14" stroke="#222" stroke-width="0.9" />
<line x1="422.30" y1="368.16" x2="423.90" y2="368.16" stroke="#222" stroke-width="0.9" />
<line x1="422.30" y1="366.41" x2="423.90" y2="366.41" stroke="#222" stroke-width="0.9" />
<line x1="420.90" y1="433.15" x2="423.90" y2="433.15" stroke="#222" stroke-width="1.2" />
<text transform="translate(418.70,436.15) scale(1,1.03)" font-size="9.4" text-anchor="end" fill="#111" stroke="#111">1E-6</text>
<line x1="422.30" y1="422.87" x2="423.90" y2="422.87" stroke="#222" stroke-width="0.9" />
<line x1="422.30" y1="416.86" x2="423.90" y2="416.86" stroke="#222" stroke-width="0.9" />
<line x1="422.30" y1="412.59" x2="423.90" y2="412.59" stroke="#222" stroke-width="0.9" />
<line x1="422.30" y1="409.28" x2="423.90" y2="409.28" stroke="#222" stroke-width="0.9" />
<line x1="422.30" y1="406.58" x2="423.90" y2="406.58" stroke="#222" stroke-width="0.9" />
<line x1="422.30" y1="404.29" x2="423.90" y2="404.29" stroke="#222" stroke-width="0.9" />
<line x1="422.30" y1="402.31" x2="423.90" y2="402.31" stroke="#222" stroke-width="0.9" />
<line x1="422.30" y1="400.56" x2="423.90" y2="400.56" stroke="#222" stroke-width="0.9" />
<line x1="420.90" y1="467.30" x2="423.90" y2="467.30" stroke="#222" stroke-width="1.2" />
<text transform="translate(418.70,470.30) scale(1,1.03)" font-size="9.4" text-anchor="end" fill="#111" stroke="#111">1E-7</text>
<line x1="422.30" y1="457.02" x2="423.90" y2="457.02" stroke="#222" stroke-width="0.9" />
<line x1="422.30" y1="451.01" x2="423.90" y2="451.01" stroke="#222" stroke-width="0.9" />
<line x1="422.30" y1="446.74" x2="423.90" y2="446.74" stroke="#222" stroke-width="0.9" />
<line x1="422.30" y1="443.43" x2="423.90" y2="443.43" stroke="#222" stroke-width="0.9" />
<line x1="422.30" y1="440.73" x2="423.90" y2="440.73" stroke="#222" stroke-width="0.9" />
<line x1="422.30" y1="438.44" x2="423.90" y2="438.44" stroke="#222" stroke-width="0.9" />
<line x1="422.30" y1="436.46" x2="423.90" y2="436.46" stroke="#222" stroke-width="0.9" />
<line x1="422.30" y1="434.71" x2="423.90" y2="434.71" stroke="#222" stroke-width="0.9" />
<line x1="716.60" y1="253.33" x2="718.10" y2="253.33" stroke="#222" stroke-width="0.8" />
<line x1="715.10" y1="265.40" x2="718.10" y2="265.40" stroke="#222" stroke-width="1.2" />
<line x1="716.60" y1="293.43" x2="718.10" y2="293.43" stroke="#222" stroke-width="0.8" />
<line x1="716.60" y1="286.37" x2="718.10" y2="286.37" stroke="#222" stroke-width="0.8" />
<line x1="716.60" y1="281.36" x2="718.10" y2="281.36" stroke="#222" stroke-width="0.8" />
<line x1="716.60" y1="277.47" x2="718.10" y2="277.47" stroke="#222" stroke-width="0.8" />
<line x1="716.60" y1="274.30" x2="718.10" y2="274.30" stroke="#222" stroke-width="0.8" />
<line x1="716.60" y1="271.61" x2="718.10" y2="271.61" stroke="#222" stroke-width="0.8" />
<line x1="716.60" y1="269.29" x2="718.10" y2="269.29" stroke="#222" stroke-width="0.8" />
<line x1="716.60" y1="267.23" x2="718.10" y2="267.23" stroke="#222" stroke-width="0.8" />
<line x1="715.10" y1="305.50" x2="718.10" y2="305.50" stroke="#222" stroke-width="1.2" />
<line x1="716.60" y1="333.53" x2="718.10" y2="333.53" stroke="#222" stroke-width="0.8" />
<line x1="716.60" y1="326.47" x2="718.10" y2="326.47" stroke="#222" stroke-width="0.8" />
<line x1="716.60" y1="321.46" x2="718.10" y2="321.46" stroke="#222" stroke-width="0.8" />
<line x1="716.60" y1="317.57" x2="718.10" y2="317.57" stroke="#222" stroke-width="0.8" />
<line x1="716.60" y1="314.40" x2="718.10" y2="314.40" stroke="#222" stroke-width="0.8" />
<line x1="716.60" y1="311.71" x2="718.10" y2="311.71" stroke="#222" stroke-width="0.8" />
<line x1="716.60" y1="309.39" x2="718.10" y2="309.39" stroke="#222" stroke-width="0.8" />
<line x1="716.60" y1="307.33" x2="718.10" y2="307.33" stroke="#222" stroke-width="0.8" />
<line x1="715.10" y1="345.60" x2="718.10" y2="345.60" stroke="#222" stroke-width="1.2" />
<line x1="716.60" y1="373.63" x2="718.10" y2="373.63" stroke="#222" stroke-width="0.8" />
<line x1="716.60" y1="366.57" x2="718.10" y2="366.57" stroke="#222" stroke-width="0.8" />
<line x1="716.60" y1="361.56" x2="718.10" y2="361.56" stroke="#222" stroke-width="0.8" />
<line x1="716.60" y1="357.67" x2="718.10" y2="357.67" stroke="#222" stroke-width="0.8" />
<line x1="716.60" y1="354.50" x2="718.10" y2="354.50" stroke="#222" stroke-width="0.8" />
<line x1="716.60" y1="351.81" x2="718.10" y2="351.81" stroke="#222" stroke-width="0.8" />
<line x1="716.60" y1="349.49" x2="718.10" y2="349.49" stroke="#222" stroke-width="0.8" />
<line x1="716.60" y1="347.43" x2="718.10" y2="347.43" stroke="#222" stroke-width="0.8" />
<line x1="715.10" y1="385.70" x2="718.10" y2="385.70" stroke="#222" stroke-width="1.2" />
<line x1="716.60" y1="413.73" x2="718.10" y2="413.73" stroke="#222" stroke-width="0.8" />
<line x1="716.60" y1="406.67" x2="718.10" y2="406.67" stroke="#222" stroke-width="0.8" />
<line x1="716.60" y1="401.66" x2="718.10" y2="401.66" stroke="#222" stroke-width="0.8" />
<line x1="716.60" y1="397.77" x2="718.10" y2="397.77" stroke="#222" stroke-width="0.8" />
<line x1="716.60" y1="394.60" x2="718.10" y2="394.60" stroke="#222" stroke-width="0.8" />
<line x1="716.60" y1="391.91" x2="718.10" y2="391.91" stroke="#222" stroke-width="0.8" />
<line x1="716.60" y1="389.59" x2="718.10" y2="389.59" stroke="#222" stroke-width="0.8" />
<line x1="716.60" y1="387.53" x2="718.10" y2="387.53" stroke="#222" stroke-width="0.8" />
<line x1="715.10" y1="425.80" x2="718.10" y2="425.80" stroke="#222" stroke-width="1.2" />
<line x1="716.60" y1="453.83" x2="718.10" y2="453.83" stroke="#222" stroke-width="0.8" />
<line x1="716.60" y1="446.77" x2="718.10" y2="446.77" stroke="#222" stroke-width="0.8" />
<line x1="716.60" y1="441.76" x2="718.10" y2="441.76" stroke="#222" stroke-width="0.8" />
<line x1="716.60" y1="437.87" x2="718.10" y2="437.87" stroke="#222" stroke-width="0.8" />
<line x1="716.60" y1="434.70" x2="718.10" y2="434.70" stroke="#222" stroke-width="0.8" />
<line x1="716.60" y1="432.01" x2="718.10" y2="432.01" stroke="#222" stroke-width="0.8" />
<line x1="716.60" y1="429.69" x2="718.10" y2="429.69" stroke="#222" stroke-width="0.8" />
<line x1="716.60" y1="427.63" x2="718.10" y2="427.63" stroke="#222" stroke-width="0.8" />
<line x1="715.10" y1="465.90" x2="718.10" y2="465.90" stroke="#222" stroke-width="1.2" />
<line x1="445.20" y1="252.65" x2="445.20" y2="254.25" stroke="#222" stroke-width="1.0" />
<line x1="466.15" y1="252.65" x2="466.15" y2="255.25" stroke="#222" stroke-width="1.0" />
<line x1="487.10" y1="252.65" x2="487.10" y2="254.25" stroke="#222" stroke-width="1.0" />
<line x1="508.05" y1="252.65" x2="508.05" y2="255.25" stroke="#222" stroke-width="1.0" />
<line x1="529.00" y1="252.65" x2="529.00" y2="254.25" stroke="#222" stroke-width="1.0" />
<line x1="549.95" y1="252.65" x2="549.95" y2="255.25" stroke="#222" stroke-width="1.0" />
<line x1="570.90" y1="252.65" x2="570.90" y2="254.25" stroke="#222" stroke-width="1.0" />
<line x1="591.85" y1="252.65" x2="591.85" y2="255.25" stroke="#222" stroke-width="1.0" />
<line x1="612.80" y1="252.65" x2="612.80" y2="254.25" stroke="#222" stroke-width="1.0" />
<line x1="633.75" y1="252.65" x2="633.75" y2="255.25" stroke="#222" stroke-width="1.0" />
<line x1="654.70" y1="252.65" x2="654.70" y2="254.25" stroke="#222" stroke-width="1.0" />
<line x1="675.65" y1="252.65" x2="675.65" y2="255.25" stroke="#222" stroke-width="1.0" />
<line x1="696.60" y1="252.65" x2="696.60" y2="254.25" stroke="#222" stroke-width="1.0" />
<line x1="460.70" y1="467.30" x2="460.70" y2="470.30" stroke="#222" stroke-width="1.2" />
<text transform="translate(460.70,479.70) scale(1,1.03)" font-size="9.4" text-anchor="middle" fill="#111" stroke="#111">1.5</text>
<line x1="509.66" y1="467.30" x2="509.66" y2="470.30" stroke="#222" stroke-width="1.2" />
<text transform="translate(509.66,479.70) scale(1,1.03)" font-size="9.4" text-anchor="middle" fill="#111" stroke="#111">1.6</text>
<line x1="558.62" y1="467.30" x2="558.62" y2="470.30" stroke="#222" stroke-width="1.2" />
<text transform="translate(558.62,479.70) scale(1,1.03)" font-size="9.4" text-anchor="middle" fill="#111" stroke="#111">1.7</text>
<line x1="607.58" y1="467.30" x2="607.58" y2="470.30" stroke="#222" stroke-width="1.2" />
<text transform="translate(607.58,479.70) scale(1,1.03)" font-size="9.4" text-anchor="middle" fill="#111" stroke="#111">1.8</text>
<line x1="656.54" y1="467.30" x2="656.54" y2="470.30" stroke="#222" stroke-width="1.2" />
<text transform="translate(656.54,479.70) scale(1,1.03)" font-size="9.4" text-anchor="middle" fill="#111" stroke="#111">1.9</text>
<line x1="705.50" y1="467.30" x2="705.50" y2="470.30" stroke="#222" stroke-width="1.2" />
<text transform="translate(705.50,479.70) scale(1,1.03)" font-size="9.4" text-anchor="middle" fill="#111" stroke="#111">2.0</text>
<line x1="436.22" y1="467.30" x2="436.22" y2="469.10" stroke="#222" stroke-width="1.0" />
<line x1="485.18" y1="467.30" x2="485.18" y2="469.10" stroke="#222" stroke-width="1.0" />
<line x1="534.14" y1="467.30" x2="534.14" y2="469.10" stroke="#222" stroke-width="1.0" />
<line x1="583.10" y1="467.30" x2="583.10" y2="469.10" stroke="#222" stroke-width="1.0" />
<line x1="632.06" y1="467.30" x2="632.06" y2="469.10" stroke="#222" stroke-width="1.0" />
<line x1="681.02" y1="467.30" x2="681.02" y2="469.10" stroke="#222" stroke-width="1.0" />
<text x="377.00" y="266.00" font-size="17.5" text-anchor="start" fill="#111" stroke="#111" >(d)</text>
<path d="M446.00,357.70 L446.93,358.60 L447.84,359.51 L448.71,360.43 L449.57,361.36 L450.39,362.31 L451.20,363.27 L451.97,364.23 L452.73,365.21 L453.45,366.20 L454.16,367.21 L454.84,368.22 L455.50,369.24 L456.14,370.27 L456.75,371.32 L457.34,372.37 L457.92,373.43 L458.47,374.50 L459.00,375.58 L459.51,376.66 L460.00,377.76 L460.47,378.86 L460.93,379.97 L461.36,381.09 L461.78,382.22 L462.18,383.35 L462.56,384.49 L462.93,385.64 L463.28,386.79 L463.61,387.95 L463.93,389.12 L464.23,390.29 L464.52,391.46 L464.80,392.65 L465.06,393.83 L465.31,395.02 L465.54,396.22 L465.77,397.42 L465.98,398.62 L466.18,399.83 L466.36,401.04 L466.54,402.26 L466.71,403.47 L466.86,404.69 L467.01,405.92 L467.15,407.14 L467.27,408.37 L467.39,409.60 L467.51,410.83 L467.61,412.06 L467.71,413.29 L467.80,414.53 L467.88,415.76 L467.96,417.00 L468.03,418.23 L468.10,419.47 L468.16,420.70 L468.22,421.93 L468.28,423.17 L468.33,424.40 L468.38,425.63 L468.42,426.86 L468.46,428.09 L468.51,429.31 L468.55,430.54 L468.58,431.76 L468.62,432.97 L468.66,434.19 L468.70,435.40 M468.70,435.40 L468.88,434.16 L469.04,432.92 L469.19,431.68 L469.32,430.43 L469.43,429.18 L469.53,427.94 L469.62,426.68 L469.69,425.43 L469.76,424.18 L469.81,422.92 L469.86,421.67 L469.90,420.41 L469.93,419.15 L469.96,417.89 L469.99,416.63 L470.01,415.37 L470.03,414.11 L470.05,412.85 L470.07,411.59 L470.10,410.33 L470.13,409.07 L470.16,407.81 L470.20,406.56 L470.24,405.30 L470.29,404.04 L470.35,402.79 L470.42,401.53 L470.50,400.28 L470.60,399.03 L470.71,397.78 L470.83,396.53 L470.97,395.29 L471.12,394.05 L471.29,392.81 L471.48,391.57 L471.70,390.33 L471.93,389.10 L472.19,387.87 L472.47,386.64 L472.77,385.42 L473.10,384.20 M473.10,384.20 L473.71,383.09 L474.34,382.01 L474.99,380.95 L475.67,379.91 L476.36,378.89 L477.07,377.90 L477.80,376.93 L478.55,375.98 L479.32,375.04 L480.10,374.13 L480.90,373.23 L481.71,372.35 L482.54,371.49 L483.38,370.64 L484.24,369.81 L485.11,368.99 L485.99,368.18 L486.88,367.39 L487.78,366.61 L488.69,365.84 L489.62,365.08 L490.55,364.33 L491.49,363.58 L492.43,362.85 L493.39,362.12 L494.35,361.40 L495.31,360.69 L496.28,359.98 L497.26,359.28 L498.23,358.57 L499.22,357.88 L500.20,357.18 L501.18,356.48 L502.17,355.79 L503.16,355.09 L504.14,354.40 L505.13,353.70 L506.11,353.00 L507.09,352.29 L508.07,351.59 L509.05,350.87 L510.02,350.15 L510.98,349.43 L511.94,348.70 L512.90,347.96 L513.85,347.21 L514.79,346.46 L515.73,345.70 L516.66,344.93 L517.58,344.15 L518.51,343.37 L519.42,342.59 L520.34,341.80 L521.25,341.00 L522.15,340.20 L523.05,339.39 L523.95,338.58 L524.84,337.76 L525.73,336.94 L526.62,336.12 L527.51,335.29 L528.39,334.46 L529.27,333.63 L530.15,332.79 L531.02,331.95 L531.89,331.11 L532.76,330.27 L533.63,329.42 L534.50,328.57 L535.37,327.72 L536.24,326.87 L537.10,326.02 L537.97,325.17 L538.83,324.32 L539.70,323.47 L540.56,322.62 L541.43,321.77 L542.29,320.92 L543.16,320.07 L544.03,319.22 L544.90,318.38 L545.77,317.53 L546.64,316.69 L547.51,315.85 L548.38,315.01 L549.26,314.18 L550.14,313.35 L551.02,312.52 L551.90,311.69 L552.79,310.87 L553.68,310.06 L554.57,309.24 L555.47,308.43 L556.36,307.63 L557.27,306.83 L558.17,306.03 L559.08,305.24 L559.99,304.46 L560.90,303.67 L561.82,302.90 L562.74,302.13 L563.67,301.36 L564.60,300.60 L565.53,299.84 L566.46,299.10 L567.40,298.35 L568.35,297.61 L569.29,296.88 L570.25,296.16 L571.20,295.44 L572.16,294.72 L573.12,294.01 L574.09,293.31 L575.06,292.62 L576.04,291.93 L577.02,291.25 L578.00,290.58 L578.99,289.91 L579.98,289.25 L580.98,288.60 L581.98,287.96 L582.99,287.32 L584.00,286.69 L585.02,286.07 L586.04,285.46 L587.06,284.85 L588.09,284.26 L589.13,283.67 L590.17,283.09 L591.22,282.52 L592.27,281.95 L593.32,281.40 L594.38,280.85 L595.45,280.32 L596.52,279.79 L597.60,279.27 L598.68,278.76 L599.77,278.26 L600.87,277.78 L601.96,277.30 L603.07,276.83 L604.18,276.37 L605.30,275.92 L606.42,275.48 L607.55,275.05 L608.68,274.63 L609.82,274.22 L610.97,273.82 L612.12,273.43 L613.28,273.06 L614.45,272.69 L615.62,272.34 L616.80,272.00 L617.98,271.67 L619.17,271.35 L620.37,271.04 L621.57,270.74 L622.78,270.46 L624.00,270.18 L625.22,269.92 L626.45,269.67 L627.68,269.44 L628.92,269.21 L630.15,268.99 L631.38,268.79 L632.61,268.59 L633.84,268.40 L635.05,268.22 L636.26,268.05 L637.46,267.88 L638.65,267.72 L639.82,267.57 L640.98,267.43 L642.12,267.29 L643.24,267.15 L644.34,267.02 L645.42,266.90 L646.47,266.82 L647.48,266.86 L648.42,267.10 L649.29,267.63 L650.07,268.52 L650.75,269.85 L651.30,271.70 M651.30,271.70 L652.42,271.25 L653.56,270.85 L654.71,270.50 L655.86,270.18 L657.03,269.91 L658.21,269.67 L659.39,269.47 L660.59,269.31 L661.79,269.17 L663.00,269.07 L664.22,269.00 L665.45,268.95 L666.68,268.93 L667.92,268.93 L669.16,268.95 L670.41,269.00 L671.66,269.06 L672.92,269.13 L674.18,269.22 L675.44,269.32 L676.71,269.44 L677.98,269.56 L679.25,269.69 L680.53,269.82 L681.80,269.95 L683.07,270.09 L684.35,270.22 L685.62,270.36 L686.90,270.48 L688.17,270.61 L689.44,270.72 L690.71,270.82 L691.97,270.91 L693.24,270.99 L694.50,271.05 L695.75,271.10 L697.00,271.12 L698.25,271.13 L699.49,271.11 L700.73,271.06 L701.95,270.99 L703.18,270.89 L704.39,270.76 L705.60,270.60" fill="none" stroke="#17c987" stroke-width="1.75" stroke-linejoin="round" />
<path d="M447.70,340.30 L448.67,339.56 L449.74,339.13 L450.89,338.97 L452.11,339.01 L453.39,339.20 L454.69,339.47 L456.02,339.78 L457.35,340.06 L458.66,340.26 L459.93,340.32 L461.16,340.19 L462.33,339.80 L463.41,339.09 L464.39,338.05 L465.29,336.82 L466.12,335.70 L466.91,334.98 L467.67,334.95 L468.43,335.72 L469.19,336.84 L469.98,337.79 L470.81,338.04 L471.67,337.53 L472.57,336.54 L473.49,335.34 L474.44,334.21 L475.42,333.43 L476.41,333.27 L477.42,333.72 L478.50,334.50 L479.65,335.33 L480.88,335.96 L482.13,336.22 L483.28,336.01 L484.26,335.22 L485.07,334.01 L485.75,332.66 L486.37,331.45 L486.99,330.66 L487.65,330.58 L488.40,331.28 L489.23,332.38 L490.13,333.44 L491.07,334.01 L492.05,333.73 L493.03,332.97 L493.95,332.43 L494.76,332.72 L495.53,333.62 L496.31,334.64 L497.20,335.25 L498.27,334.94 L499.60,333.20 M499.60,333.20 L500.61,332.33 L501.60,331.50 L502.57,330.68 L503.52,329.90 L504.46,329.13 L505.39,328.40 L506.32,327.68 L507.24,326.99 L508.16,326.32 L509.09,325.67 L510.03,325.04 L510.97,324.42 L511.93,323.83 L512.91,323.26 L513.91,322.70 L514.94,322.16 L515.99,321.64 L517.07,321.13 L518.19,320.63 L519.35,320.15 L520.54,319.68 L521.78,319.23 L523.05,318.79 L524.34,318.38 L525.66,317.99 L527.00,317.63 L528.34,317.29 L529.70,317.00 L531.05,316.74 L532.40,316.51 L533.74,316.34 L535.07,316.20 L536.38,316.12 L537.66,316.09 L538.92,316.11 L540.14,316.20 L541.31,316.34 L542.45,316.55 L543.54,316.81 L544.59,317.14 L545.61,317.52 L546.58,317.96 L547.51,318.45 L548.41,319.00 L549.26,319.59 L550.09,320.24 L550.87,320.93 L551.62,321.66 L552.34,322.44 L553.03,323.26 L553.68,324.12 L554.30,325.02 L554.89,325.96 L555.45,326.93 L555.98,327.93 L556.49,328.96 L556.97,330.03 L557.42,331.12 L557.84,332.24 L558.24,333.38 L558.62,334.55 L558.97,335.73 L559.31,336.94 L559.62,338.16 L559.91,339.40 L560.18,340.65 L560.43,341.91 L560.67,343.19 L560.88,344.47 L561.08,345.76 L561.27,347.05 L561.44,348.35 L561.60,349.65 L561.74,350.95 L561.88,352.25 L562.00,353.55 L562.11,354.84 L562.21,356.12 L562.30,357.40 L562.39,358.66 L562.46,359.92 L562.53,361.17 L562.59,362.42 L562.65,363.65 L562.70,364.88 L562.74,366.10 L562.77,367.32 L562.80,368.53 L562.83,369.73 L562.85,370.93 L562.86,372.13 L562.87,373.32 L562.87,374.50 L562.87,375.69 L562.87,376.86 L562.86,378.04 L562.86,379.21 L562.84,380.38 L562.83,381.55 L562.81,382.72 L562.79,383.88 L562.77,385.05 L562.75,386.21 L562.73,387.37 L562.71,388.53 L562.68,389.70 L562.66,390.86 L562.64,392.02 L562.62,393.19 L562.59,394.36 L562.58,395.53 L562.56,396.70 L562.54,397.87 L562.53,399.05 L562.51,400.23 L562.50,401.41 L562.50,402.60 L562.50,403.79 L562.50,404.99 L562.50,406.19 L562.51,407.40 L562.53,408.61 L562.54,409.83 L562.57,411.05 L562.60,412.28 L562.63,413.52 L562.68,414.77 L562.72,416.02 L562.78,417.28 L562.84,418.55 L562.91,419.83 L562.99,421.12 L563.07,422.41 L563.17,423.72 L563.27,425.04 L563.38,426.36 L563.50,427.70 M563.50,427.70 L563.65,426.70 L563.79,425.68 L563.92,424.66 L564.04,423.62 L564.15,422.58 L564.25,421.52 L564.35,420.45 L564.43,419.38 L564.51,418.29 L564.58,417.19 L564.64,416.09 L564.70,414.97 L564.75,413.85 L564.79,412.72 L564.82,411.58 L564.85,410.43 L564.87,409.28 L564.89,408.11 L564.90,406.94 L564.91,405.76 L564.91,404.58 L564.91,403.38 L564.91,402.19 L564.90,400.98 L564.88,399.77 L564.87,398.55 L564.85,397.33 L564.83,396.10 L564.80,394.87 L564.77,393.63 L564.75,392.39 L564.71,391.14 L564.68,389.89 L564.65,388.63 L564.62,387.37 L564.58,386.11 L564.55,384.84 L564.52,383.57 L564.48,382.30 L564.45,381.02 L564.42,379.75 L564.39,378.46 L564.36,377.18 L564.33,375.90 L564.30,374.61 L564.28,373.32 L564.26,372.03 L564.24,370.75 L564.23,369.45 L564.22,368.16 L564.21,366.87 L564.21,365.58 L564.21,364.29 L564.22,363.00 L564.23,361.71 L564.24,360.42 L564.26,359.13 L564.29,357.84 L564.32,356.56 L564.36,355.27 L564.41,353.99 L564.46,352.71 L564.52,351.43 L564.59,350.16 L564.66,348.89 L564.75,347.62 L564.84,346.35 L564.94,345.09 L565.05,343.83 L565.16,342.58 L565.29,341.33 L565.43,340.08 L565.58,338.84 L565.73,337.60 L565.90,336.37 L566.08,335.14 L566.27,333.92 L566.47,332.71 L566.68,331.50 L566.90,330.30 L567.14,329.10 L567.39,327.91 L567.65,326.73 L567.93,325.55 L568.21,324.38 L568.51,323.22 L568.83,322.07 L569.16,320.92 L569.50,319.79 L569.86,318.66 L570.24,317.54 L570.63,316.43 L571.03,315.33 L571.45,314.23 L571.89,313.15 L572.34,312.08 L572.81,311.01 L573.30,309.96 L573.80,308.92 L574.32,307.88 L574.86,306.86 L575.42,305.85 L575.99,304.85 L576.59,303.87 L577.20,302.89 L577.83,301.93 L578.49,300.98 L579.16,300.04 L579.85,299.11 L580.56,298.20 L581.29,297.30 L582.05,296.41 L582.82,295.54 L583.61,294.67 L584.41,293.83 L585.24,292.99 L586.08,292.17 L586.94,291.36 L587.82,290.56 L588.71,289.78 L589.62,289.01 L590.55,288.25 L591.49,287.51 L592.44,286.78 L593.41,286.06 L594.39,285.36 L595.38,284.67 L596.39,283.99 L597.41,283.33 L598.44,282.68 L599.48,282.04 L600.54,281.41 L601.60,280.80 L602.68,280.21 L603.76,279.62 L604.85,279.05 L605.95,278.50 L607.07,277.95 L608.18,277.42 L609.31,276.91 L610.44,276.40 L611.58,275.91 L612.73,275.44 L613.88,274.98 L615.04,274.53 L616.20,274.09 L617.37,273.67 L618.54,273.27 L619.71,272.87 L620.89,272.49 L622.07,272.13 L623.25,271.77 L624.44,271.43 L625.63,271.11 L626.81,270.80 L628.00,270.50 M628.00,270.50 L630.00,270.70 L632.30,271.80 L634.00,270.30 L636.00,269.90 L650.60,269.90 L670.00,270.20 L690.00,270.70 L705.60,271.00" fill="none" stroke="#17c987" stroke-width="1.5" stroke-linejoin="round" stroke-dasharray="1.3,1.35"/>
<text x="438.20" y="327.50" font-size="6.5" text-anchor="middle" fill="#111" stroke="#111" >End</text>
<line x1="442.20" y1="331.60" x2="445.12" y2="336.89" stroke="#111" stroke-width="0.9" stroke-dasharray="1.8,1.3"/>
<path d="M447.40,341.00 L443.70,337.10 L446.06,335.80 Z" fill="#111"/>
<text x="435.50" y="392.80" font-size="6.5" text-anchor="middle" fill="#111" stroke="#111" >Start</text>
<line x1="437.40" y1="382.10" x2="442.88" y2="369.03" stroke="#111" stroke-width="0.9" />
<path d="M444.70,364.70 L443.93,370.02 L441.44,368.97 Z" fill="#111"/>
<line x1="472.00" y1="433.50" x2="474.39" y2="422.69" stroke="#111" stroke-width="0.9" />
<path d="M475.40,418.10 L475.60,423.47 L472.96,422.89 Z" fill="#111"/>
<line x1="553.70" y1="304.10" x2="569.05" y2="294.24" stroke="#111" stroke-width="0.9" />
<path d="M573.00,291.70 L569.35,295.65 L567.90,293.38 Z" fill="#111"/>
<line x1="701.90" y1="292.70" x2="703.58" y2="283.23" stroke="#111" stroke-width="0.9" />
<path d="M704.40,278.60 L704.82,283.96 L702.16,283.48 Z" fill="#111"/>
<text x="700.10" y="303.90" font-size="6.5" text-anchor="middle" fill="#111" stroke="#111" >Reverse</text>
<text x="619.00" y="444.60" font-size="10.8" text-anchor="start" fill="#111" stroke="#111" >Scan rate 2 mV/s</text>
<text x="619.00" y="457.90" font-size="10.8" fill="#111" stroke="#111">W.E. <tspan fill="#17c987" stroke="#17c987">Ni</tspan></text>
<text transform="translate(389.30,366.30) rotate(-90)" font-size="10" text-anchor="middle" fill="#111" stroke="#111">Current Density (A/cm<tspan font-size="11.50" dy="-4.8">2</tspan><tspan dy="4.8">)</tspan></text>
<text x="565.30" y="494.80" font-size="10" text-anchor="middle" fill="#111" stroke="#111">Potential (V) vs Mg|Mg<tspan font-size="6.50" dy="-5">2+</tspan><tspan dy="5" xml:space="preserve">  (RE)</tspan></text>
</svg></body></html>
